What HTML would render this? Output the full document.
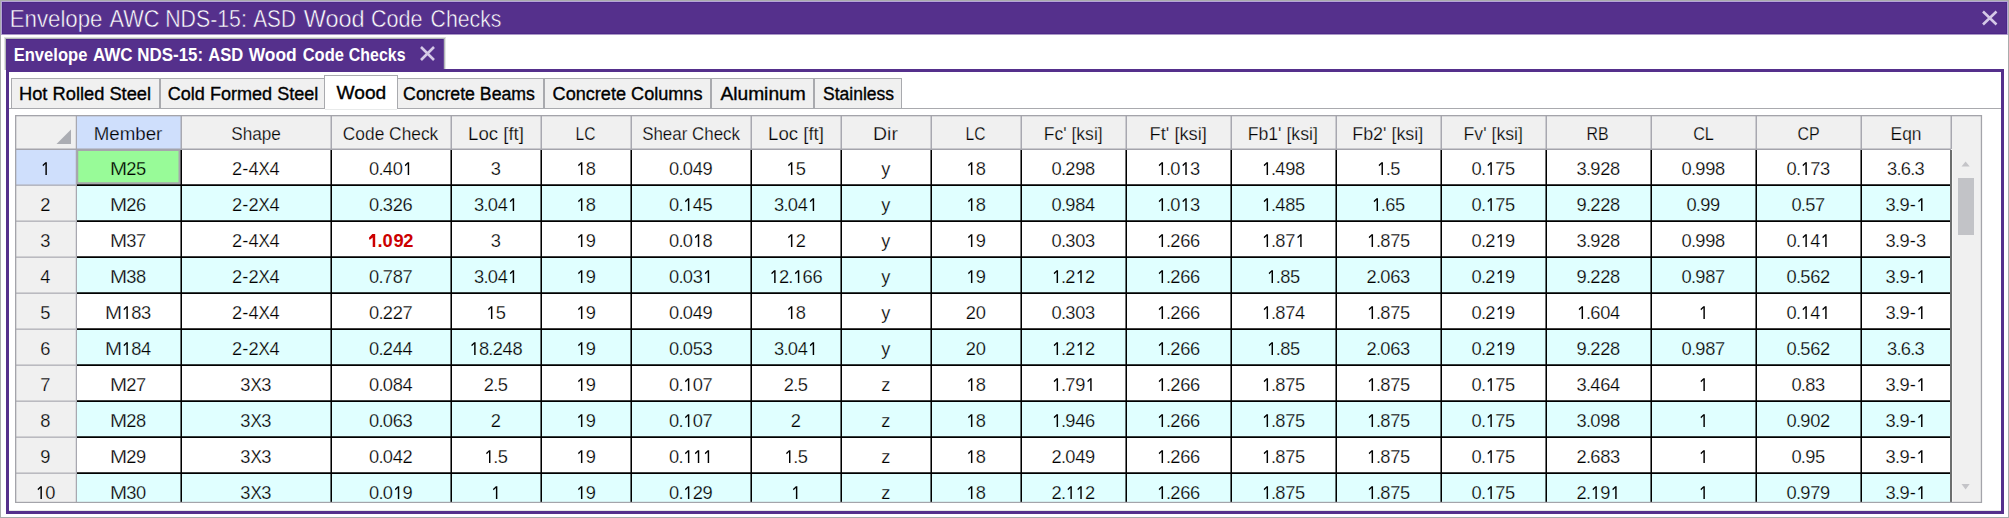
<!DOCTYPE html><html><head><meta charset="utf-8"><style>
html,body{margin:0;padding:0;background:#fff;}
body{width:2009px;height:518px;position:relative;overflow:hidden;font-family:"Liberation Sans", sans-serif;}
.t{position:absolute;white-space:pre;}
.r{position:absolute;}
.g{position:absolute;white-space:pre;font-size:18.3px;line-height:18.3px;}
svg{position:absolute;left:0;top:0;}
</style></head><body>
<div class="r" style="left:0px;top:0px;width:2009px;height:518px;background:#a9acac;"></div>
<div class="r" style="left:1px;top:1px;width:2007px;height:516px;background:#fff;"></div>
<div class="r" style="left:1px;top:1px;width:2007px;height:34px;background:#b6a4d8;"></div>
<div class="r" style="left:2px;top:2px;width:2005px;height:33px;background:#4c2888;"></div>
<div class="r" style="left:2px;top:34px;width:2005px;height:1px;background:#ab98c6;"></div>
<div class="r" style="left:3px;top:3px;width:2003px;height:31px;background:#55308c;"></div>
<div class="r" style="left:3px;top:33px;width:2003px;height:1px;background:#4c2888;"></div>
<div class="t" style="left:6.12px;top:6.88px;font-size:24px;line-height:24px;color:#fff;transform:scaleX(0.9273);transform-origin:50.50px 50%;-webkit-text-stroke:0.5px #55308c;">Envelope</div>
<div class="t" style="left:106.50px;top:6.88px;font-size:24px;line-height:24px;color:#fff;transform:scaleX(0.9039);transform-origin:27.15px 50%;-webkit-text-stroke:0.5px #55308c;">AWC</div>
<div class="t" style="left:160.35px;top:6.88px;font-size:24px;line-height:24px;color:#fff;transform:scaleX(0.8874);transform-origin:45.95px 50%;-webkit-text-stroke:0.5px #55308c;">NDS-15:</div>
<div class="t" style="left:250.10px;top:6.88px;font-size:24px;line-height:24px;color:#fff;transform:scaleX(0.8628);transform-origin:24.15px 50%;-webkit-text-stroke:0.5px #55308c;">ASD</div>
<div class="t" style="left:302.60px;top:6.88px;font-size:24px;line-height:24px;color:#fff;transform:scaleX(0.9769);transform-origin:30.40px 50%;-webkit-text-stroke:0.5px #55308c;">Wood</div>
<div class="t" style="left:367.70px;top:6.88px;font-size:24px;line-height:24px;color:#fff;transform:scaleX(0.8984);transform-origin:28.75px 50%;-webkit-text-stroke:0.5px #55308c;">Code</div>
<div class="t" style="left:425.95px;top:6.88px;font-size:24px;line-height:24px;color:#fff;transform:scaleX(0.8858);transform-origin:40.15px 50%;-webkit-text-stroke:0.5px #55308c;">Checks</div>
<svg width="2009" height="518" style="pointer-events:none">
<path d="M1983 11.5L1996.5 24.5M1996.5 11.5L1983 24.5" stroke="#d5c9e7" stroke-width="2.6" fill="none"/>
</svg>
<div class="r" style="left:6px;top:69px;width:1998px;height:3px;background:#55308c;"></div>
<div class="r" style="left:6px;top:69px;width:3px;height:445px;background:#55308c;"></div>
<div class="r" style="left:2001px;top:69px;width:3px;height:445px;background:#55308c;"></div>
<div class="r" style="left:9px;top:510px;width:1992px;height:1px;background:#e4e8e4;"></div>
<div class="r" style="left:6px;top:511px;width:1998px;height:3px;background:#55308c;"></div>
<div class="r" style="left:4px;top:37px;width:442px;height:1px;background:#e0e2e2;"></div>
<div class="r" style="left:4px;top:37px;width:1px;height:33px;background:#e0e2e2;"></div>
<div class="r" style="left:5px;top:38px;width:440px;height:1px;background:#b4b8b8;"></div>
<div class="r" style="left:5px;top:38px;width:1px;height:32px;background:#b4b8b8;"></div>
<div class="r" style="left:445px;top:38px;width:1px;height:31px;background:#e4e6e6;"></div>
<div class="r" style="left:444px;top:38px;width:1px;height:31px;background:#b4b8b8;"></div>
<div class="r" style="left:6px;top:39px;width:438px;height:31px;background:#55308c;"></div>
<div class="r" style="left:6px;top:39px;width:438px;height:1px;background:#4c2888;"></div>
<div class="r" style="left:443px;top:39px;width:1px;height:30px;background:#6a4c98;"></div>
<div class="t" style="left:8.75px;top:46.20px;font-size:18.67px;line-height:18.67px;font-weight:bold;color:#fff;transform:scaleX(0.8881);transform-origin:41.85px 50%;">Envelope</div>
<div class="t" style="left:90.75px;top:46.20px;font-size:18.67px;line-height:18.67px;font-weight:bold;color:#fff;transform:scaleX(0.9131);transform-origin:21.80px 50%;">AWC</div>
<div class="t" style="left:134.45px;top:46.20px;font-size:18.67px;line-height:18.67px;font-weight:bold;color:#fff;transform:scaleX(0.9067);transform-origin:36.05px 50%;">NDS-15:</div>
<div class="t" style="left:205.75px;top:46.20px;font-size:18.67px;line-height:18.67px;font-weight:bold;color:#fff;transform:scaleX(0.8874);transform-origin:19.60px 50%;">ASD</div>
<div class="t" style="left:246.90px;top:46.20px;font-size:18.67px;line-height:18.67px;font-weight:bold;color:#fff;transform:scaleX(0.9325);transform-origin:25.20px 50%;">Wood</div>
<div class="t" style="left:299.60px;top:46.20px;font-size:18.67px;line-height:18.67px;font-weight:bold;color:#fff;transform:scaleX(0.8855);transform-origin:23.50px 50%;">Code</div>
<div class="t" style="left:344.45px;top:46.20px;font-size:18.67px;line-height:18.67px;font-weight:bold;color:#fff;transform:scaleX(0.8536);transform-origin:33.25px 50%;">Checks</div>
<svg width="2009" height="518" style="pointer-events:none">
<path d="M421 47L434 60M434 47L421 60" stroke="#d5c9e7" stroke-width="2.6" fill="none"/>
</svg>
<div class="r" style="left:9px;top:108px;width:1992px;height:1px;background:#a9aaae;"></div>
<div class="r" style="box-sizing:border-box;left:11px;top:78px;width:149px;height:31px;background:#f0f0f0;border:1px solid #a9aaae;"></div>
<div class="r" style="box-sizing:border-box;left:160px;top:78px;width:165px;height:31px;background:#f0f0f0;border:1px solid #a9aaae;"></div>
<div class="r" style="box-sizing:border-box;left:397px;top:78px;width:147px;height:31px;background:#f0f0f0;border:1px solid #a9aaae;"></div>
<div class="r" style="box-sizing:border-box;left:544px;top:78px;width:167px;height:31px;background:#f0f0f0;border:1px solid #a9aaae;"></div>
<div class="r" style="box-sizing:border-box;left:711px;top:78px;width:103px;height:31px;background:#f0f0f0;border:1px solid #a9aaae;"></div>
<div class="r" style="box-sizing:border-box;left:814px;top:78px;width:88px;height:31px;background:#f0f0f0;border:1px solid #a9aaae;"></div>
<div class="r" style="box-sizing:border-box;left:324px;top:75px;width:74px;height:34px;background:#fff;border:1px solid #a9aaae;border-bottom:none"></div>
<div class="r" style="left:325px;top:109px;width:72px;height:1px;background:#e8eaea;"></div>
<div class="t" style="left:19.70px;top:84.86px;font-size:18px;line-height:18px;color:#000;transform:scaleX(1.0157);transform-origin:65.20px 50%;-webkit-text-stroke:0.35px #000;">Hot Rolled Steel</div>
<div class="t" style="left:168.15px;top:84.86px;font-size:18px;line-height:18px;color:#000;transform:scaleX(1.0034);transform-origin:74.90px 50%;-webkit-text-stroke:0.35px #000;">Cold Formed Steel</div>
<div class="t" style="left:338.15px;top:84.06px;font-size:18px;line-height:18px;color:#000;transform:scaleX(1.0637);transform-origin:22.85px 50%;-webkit-text-stroke:0.35px #000;">Wood</div>
<div class="t" style="left:402.10px;top:84.86px;font-size:18px;line-height:18px;color:#000;transform:scaleX(0.9834);transform-origin:67.20px 50%;-webkit-text-stroke:0.35px #000;">Concrete Beams</div>
<div class="t" style="left:552.80px;top:84.86px;font-size:18px;line-height:18px;color:#000;transform:scaleX(1.0054);transform-origin:74.70px 50%;-webkit-text-stroke:0.35px #000;">Concrete Columns</div>
<div class="t" style="left:723.20px;top:84.86px;font-size:18px;line-height:18px;color:#000;transform:scaleX(1.0660);transform-origin:39.40px 50%;-webkit-text-stroke:0.35px #000;">Aluminum</div>
<div class="t" style="left:821.60px;top:84.86px;font-size:18px;line-height:18px;color:#000;transform:scaleX(0.9721);transform-origin:36.60px 50%;-webkit-text-stroke:0.35px #000;">Stainless</div>
<div class="r" style="left:15px;top:115px;width:1967px;height:388px;background:#f0f0f0;"></div>
<svg width="2009" height="518" style="pointer-events:none">
<rect x="77.00" y="116.00" width="104.00" height="33.00" fill="#cfdffc"/>
<rect x="77.00" y="149.50" width="1874.00" height="37.00" fill="#ffffff"/>
<rect x="16.00" y="149.50" width="60.00" height="36.00" fill="#cfdffc"/>
<rect x="77.00" y="185.50" width="1874.00" height="37.00" fill="#e0ffff"/>
<rect x="77.00" y="221.50" width="1874.00" height="37.00" fill="#ffffff"/>
<rect x="77.00" y="257.50" width="1874.00" height="37.00" fill="#e0ffff"/>
<rect x="77.00" y="293.50" width="1874.00" height="37.00" fill="#ffffff"/>
<rect x="77.00" y="329.50" width="1874.00" height="37.00" fill="#e0ffff"/>
<rect x="77.00" y="365.50" width="1874.00" height="37.00" fill="#ffffff"/>
<rect x="77.00" y="401.50" width="1874.00" height="37.00" fill="#e0ffff"/>
<rect x="77.00" y="437.50" width="1874.00" height="37.00" fill="#ffffff"/>
<rect x="77.00" y="473.50" width="1874.00" height="28.50" fill="#e0ffff"/>
<rect x="77.00" y="150.00" width="103.50" height="34.25" fill="#a6a6ac"/>
<rect x="78.25" y="151.00" width="100.25" height="31.25" fill="#98fb98"/>
<rect x="180.50" y="116.00" width="1.50" height="33.00" fill="#a8a8b0"/>
<rect x="330.50" y="116.00" width="1.50" height="33.00" fill="#a8a8b0"/>
<rect x="450.50" y="116.00" width="1.50" height="33.00" fill="#a8a8b0"/>
<rect x="540.50" y="116.00" width="1.50" height="33.00" fill="#a8a8b0"/>
<rect x="630.50" y="116.00" width="1.50" height="33.00" fill="#a8a8b0"/>
<rect x="750.50" y="116.00" width="1.50" height="33.00" fill="#a8a8b0"/>
<rect x="840.50" y="116.00" width="1.50" height="33.00" fill="#a8a8b0"/>
<rect x="930.50" y="116.00" width="1.50" height="33.00" fill="#a8a8b0"/>
<rect x="1020.50" y="116.00" width="1.50" height="33.00" fill="#a8a8b0"/>
<rect x="1125.50" y="116.00" width="1.50" height="33.00" fill="#a8a8b0"/>
<rect x="1230.50" y="116.00" width="1.50" height="33.00" fill="#a8a8b0"/>
<rect x="1335.50" y="116.00" width="1.50" height="33.00" fill="#a8a8b0"/>
<rect x="1440.50" y="116.00" width="1.50" height="33.00" fill="#a8a8b0"/>
<rect x="1545.50" y="116.00" width="1.50" height="33.00" fill="#a8a8b0"/>
<rect x="1650.50" y="116.00" width="1.50" height="33.00" fill="#a8a8b0"/>
<rect x="1755.50" y="116.00" width="1.50" height="33.00" fill="#a8a8b0"/>
<rect x="1860.50" y="116.00" width="1.50" height="33.00" fill="#a8a8b0"/>
<rect x="1950.50" y="116.00" width="1.50" height="33.00" fill="#a8a8b0"/>
<rect x="75.75" y="116.00" width="1.25" height="386.00" fill="#a8a8b0"/>
<rect x="16.00" y="148.50" width="1935.00" height="1.50" fill="#a4a4ac"/>
<rect x="77.00" y="184.25" width="1873.50" height="1.75" fill="#000"/>
<rect x="16.00" y="184.55" width="59.75" height="1.20" fill="#a8a8b0"/>
<rect x="77.00" y="220.25" width="1873.50" height="1.75" fill="#000"/>
<rect x="16.00" y="220.55" width="59.75" height="1.20" fill="#a8a8b0"/>
<rect x="77.00" y="256.25" width="1873.50" height="1.75" fill="#000"/>
<rect x="16.00" y="256.55" width="59.75" height="1.20" fill="#a8a8b0"/>
<rect x="77.00" y="292.25" width="1873.50" height="1.75" fill="#000"/>
<rect x="16.00" y="292.55" width="59.75" height="1.20" fill="#a8a8b0"/>
<rect x="77.00" y="328.25" width="1873.50" height="1.75" fill="#000"/>
<rect x="16.00" y="328.55" width="59.75" height="1.20" fill="#a8a8b0"/>
<rect x="77.00" y="364.25" width="1873.50" height="1.75" fill="#000"/>
<rect x="16.00" y="364.55" width="59.75" height="1.20" fill="#a8a8b0"/>
<rect x="77.00" y="400.25" width="1873.50" height="1.75" fill="#000"/>
<rect x="16.00" y="400.55" width="59.75" height="1.20" fill="#a8a8b0"/>
<rect x="77.00" y="436.25" width="1873.50" height="1.75" fill="#000"/>
<rect x="16.00" y="436.55" width="59.75" height="1.20" fill="#a8a8b0"/>
<rect x="77.00" y="472.25" width="1873.50" height="1.75" fill="#000"/>
<rect x="16.00" y="472.55" width="59.75" height="1.20" fill="#a8a8b0"/>
<rect x="180.45" y="150.00" width="1.55" height="352.00" fill="#000"/>
<rect x="330.45" y="150.00" width="1.55" height="352.00" fill="#000"/>
<rect x="450.45" y="150.00" width="1.55" height="352.00" fill="#000"/>
<rect x="540.45" y="150.00" width="1.55" height="352.00" fill="#000"/>
<rect x="630.45" y="150.00" width="1.55" height="352.00" fill="#000"/>
<rect x="750.45" y="150.00" width="1.55" height="352.00" fill="#000"/>
<rect x="840.45" y="150.00" width="1.55" height="352.00" fill="#000"/>
<rect x="930.45" y="150.00" width="1.55" height="352.00" fill="#000"/>
<rect x="1020.45" y="150.00" width="1.55" height="352.00" fill="#000"/>
<rect x="1125.45" y="150.00" width="1.55" height="352.00" fill="#000"/>
<rect x="1230.45" y="150.00" width="1.55" height="352.00" fill="#000"/>
<rect x="1335.45" y="150.00" width="1.55" height="352.00" fill="#000"/>
<rect x="1440.45" y="150.00" width="1.55" height="352.00" fill="#000"/>
<rect x="1545.45" y="150.00" width="1.55" height="352.00" fill="#000"/>
<rect x="1650.45" y="150.00" width="1.55" height="352.00" fill="#000"/>
<rect x="1755.45" y="150.00" width="1.55" height="352.00" fill="#000"/>
<rect x="1860.45" y="150.00" width="1.55" height="352.00" fill="#000"/>
<rect x="1950.00" y="150.00" width="2.00" height="352.00" fill="#6c6e6e"/>
<rect x="1952.00" y="150.00" width="1.00" height="352.00" fill="#f8f8f8"/>
<rect x="15.00" y="115.00" width="1967.00" height="1.30" fill="#a4a4aa"/>
<rect x="15.00" y="115.00" width="1.30" height="388.00" fill="#a4a4aa"/>
<rect x="1980.80" y="115.00" width="1.30" height="388.00" fill="#a4a4aa"/>
<rect x="15.00" y="501.80" width="1967.00" height="1.20" fill="#a4a4aa"/>
<path d="M71 129.5L71 144L56.5 144Z" fill="#abadb3"/>
<path d="M1961.5 166.5L1965.6 161.5L1969.7 166.5Z" fill="#c4c4c8"/>
<path d="M1961.5 484L1965.6 489.5L1969.7 484Z" fill="#c4c4c8"/>
<rect x="1958" y="178" width="16" height="57" fill="#c2c3c7"/>
</svg>
<div class="t" style="left:94.95px;top:124.96px;font-size:18px;line-height:18px;color:#000;transform:scaleX(1.0389);transform-origin:33.60px 50%;-webkit-text-stroke:0.25px #cfdffc;">Member</div>
<div class="t" style="left:229.65px;top:124.96px;font-size:18px;line-height:18px;color:#000;transform:scaleX(0.9544);transform-origin:26.00px 50%;-webkit-text-stroke:0.25px #f0f0f0;">Shape</div>
<div class="t" style="left:340.70px;top:124.96px;font-size:18px;line-height:18px;color:#000;transform:scaleX(0.9633);transform-origin:50.00px 50%;-webkit-text-stroke:0.25px #f0f0f0;">Code Check</div>
<div class="t" style="left:468.60px;top:124.96px;font-size:18px;line-height:18px;color:#000;transform:scaleX(1.0352);transform-origin:27.10px 50%;-webkit-text-stroke:0.25px #f0f0f0;">Loc [ft]</div>
<div class="t" style="left:574.20px;top:124.96px;font-size:18px;line-height:18px;color:#000;transform:scaleX(0.8654);transform-origin:11.90px 50%;-webkit-text-stroke:0.25px #f0f0f0;">LC</div>
<div class="t" style="left:638.50px;top:124.96px;font-size:18px;line-height:18px;color:#000;transform:scaleX(0.9400);transform-origin:52.45px 50%;-webkit-text-stroke:0.25px #f0f0f0;">Shear Check</div>
<div class="t" style="left:769.10px;top:124.96px;font-size:18px;line-height:18px;color:#000;transform:scaleX(1.0352);transform-origin:27.10px 50%;-webkit-text-stroke:0.25px #f0f0f0;">Loc [ft]</div>
<div class="t" style="left:874.15px;top:124.96px;font-size:18px;line-height:18px;color:#000;transform:scaleX(1.0802);transform-origin:12.10px 50%;-webkit-text-stroke:0.25px #f0f0f0;">Dir</div>
<div class="t" style="left:964.10px;top:124.96px;font-size:18px;line-height:18px;color:#000;transform:scaleX(0.8654);transform-origin:11.90px 50%;-webkit-text-stroke:0.25px #f0f0f0;">LC</div>
<div class="t" style="left:1042.85px;top:124.96px;font-size:18px;line-height:18px;color:#000;transform:scaleX(0.9740);transform-origin:30.30px 50%;-webkit-text-stroke:0.25px #f0f0f0;">Fc' [ksi]</div>
<div class="t" style="left:1149.90px;top:124.96px;font-size:18px;line-height:18px;color:#000;transform:scaleX(1.0149);transform-origin:28.30px 50%;-webkit-text-stroke:0.25px #f0f0f0;">Ft' [ksi]</div>
<div class="t" style="left:1247.40px;top:124.96px;font-size:18px;line-height:18px;color:#000;transform:scaleX(0.9825);transform-origin:35.85px 50%;-webkit-text-stroke:0.25px #f0f0f0;">Fb1' [ksi]</div>
<div class="t" style="left:1352.35px;top:124.96px;font-size:18px;line-height:18px;color:#000;transform:scaleX(0.9927);transform-origin:35.85px 50%;-webkit-text-stroke:0.25px #f0f0f0;">Fb2' [ksi]</div>
<div class="t" style="left:1462.80px;top:124.96px;font-size:18px;line-height:18px;color:#000;transform:scaleX(0.9826);transform-origin:30.30px 50%;-webkit-text-stroke:0.25px #f0f0f0;">Fv' [ksi]</div>
<div class="t" style="left:1585.45px;top:124.96px;font-size:18px;line-height:18px;color:#000;transform:scaleX(0.8805);transform-origin:12.80px 50%;-webkit-text-stroke:0.25px #f0f0f0;">RB</div>
<div class="t" style="left:1691.65px;top:124.96px;font-size:18px;line-height:18px;color:#000;transform:scaleX(0.9023);transform-origin:11.65px 50%;-webkit-text-stroke:0.25px #f0f0f0;">CL</div>
<div class="t" style="left:1795.60px;top:124.96px;font-size:18px;line-height:18px;color:#000;transform:scaleX(0.8879);transform-origin:12.50px 50%;-webkit-text-stroke:0.25px #f0f0f0;">CP</div>
<div class="t" style="left:1889.60px;top:124.96px;font-size:18px;line-height:18px;color:#000;transform:scaleX(0.9660);transform-origin:16.20px 50%;-webkit-text-stroke:0.25px #f0f0f0;">Eqn</div>
<div class="r" style="left:16px;top:116px;width:1935px;height:386px;overflow:hidden">
<div class="g" style="left:94.83px;top:43.51px;transform:scaleX(1.12);-webkit-text-stroke:0.25px #98fb98">M</div>
<div class="g" style="left:110.21px;top:43.51px;-webkit-text-stroke:0.25px #98fb98">2</div>
<div class="g" style="left:120.11px;top:43.51px;-webkit-text-stroke:0.25px #98fb98">5</div>
<div class="g" style="left:215.96px;top:43.51px;-webkit-text-stroke:0.25px #ffffff">2</div>
<div class="g" style="left:226.25px;top:43.51px;-webkit-text-stroke:0.25px #ffffff">-</div>
<div class="g" style="left:232.46px;top:43.51px;-webkit-text-stroke:0.25px #ffffff">4</div>
<div class="g" style="left:242.00px;top:43.51px;transform:scaleX(0.93);-webkit-text-stroke:0.25px #ffffff">X</div>
<div class="g" style="left:253.56px;top:43.51px;-webkit-text-stroke:0.25px #ffffff">4</div>
<div class="g" style="left:352.96px;top:43.51px;-webkit-text-stroke:0.25px #ffffff">0</div>
<div class="g" style="left:362.41px;top:43.51px;-webkit-text-stroke:0.25px #ffffff">.</div>
<div class="g" style="left:366.76px;top:43.51px;-webkit-text-stroke:0.25px #ffffff">4</div>
<div class="g" style="left:376.66px;top:43.51px;-webkit-text-stroke:0.25px #ffffff">0</div>
<div class="g" style="left:474.76px;top:43.51px;-webkit-text-stroke:0.25px #ffffff">3</div>
<div class="g" style="left:569.71px;top:43.51px;-webkit-text-stroke:0.25px #ffffff">8</div>
<div class="g" style="left:652.96px;top:43.51px;-webkit-text-stroke:0.25px #ffffff">0</div>
<div class="g" style="left:662.41px;top:43.51px;-webkit-text-stroke:0.25px #ffffff">.</div>
<div class="g" style="left:666.76px;top:43.51px;-webkit-text-stroke:0.25px #ffffff">0</div>
<div class="g" style="left:676.66px;top:43.51px;-webkit-text-stroke:0.25px #ffffff">4</div>
<div class="g" style="left:686.56px;top:43.51px;-webkit-text-stroke:0.25px #ffffff">9</div>
<div class="g" style="left:779.71px;top:43.51px;-webkit-text-stroke:0.25px #ffffff">5</div>
<div class="g" style="left:865.27px;top:43.51px;-webkit-text-stroke:0.25px #ffffff">y</div>
<div class="g" style="left:959.71px;top:43.51px;-webkit-text-stroke:0.25px #ffffff">8</div>
<div class="g" style="left:1035.46px;top:43.51px;-webkit-text-stroke:0.25px #ffffff">0</div>
<div class="g" style="left:1044.91px;top:43.51px;-webkit-text-stroke:0.25px #ffffff">.</div>
<div class="g" style="left:1049.26px;top:43.51px;-webkit-text-stroke:0.25px #ffffff">2</div>
<div class="g" style="left:1059.16px;top:43.51px;-webkit-text-stroke:0.25px #ffffff">9</div>
<div class="g" style="left:1069.06px;top:43.51px;-webkit-text-stroke:0.25px #ffffff">8</div>
<div class="g" style="left:1149.91px;top:43.51px;-webkit-text-stroke:0.25px #ffffff">.</div>
<div class="g" style="left:1154.26px;top:43.51px;-webkit-text-stroke:0.25px #ffffff">0</div>
<div class="g" style="left:1174.06px;top:43.51px;-webkit-text-stroke:0.25px #ffffff">3</div>
<div class="g" style="left:1254.91px;top:43.51px;-webkit-text-stroke:0.25px #ffffff">.</div>
<div class="g" style="left:1259.26px;top:43.51px;-webkit-text-stroke:0.25px #ffffff">4</div>
<div class="g" style="left:1269.16px;top:43.51px;-webkit-text-stroke:0.25px #ffffff">9</div>
<div class="g" style="left:1279.06px;top:43.51px;-webkit-text-stroke:0.25px #ffffff">8</div>
<div class="g" style="left:1369.81px;top:43.51px;-webkit-text-stroke:0.25px #ffffff">.</div>
<div class="g" style="left:1374.16px;top:43.51px;-webkit-text-stroke:0.25px #ffffff">5</div>
<div class="g" style="left:1455.46px;top:43.51px;-webkit-text-stroke:0.25px #ffffff">0</div>
<div class="g" style="left:1464.91px;top:43.51px;-webkit-text-stroke:0.25px #ffffff">.</div>
<div class="g" style="left:1479.16px;top:43.51px;-webkit-text-stroke:0.25px #ffffff">7</div>
<div class="g" style="left:1489.06px;top:43.51px;-webkit-text-stroke:0.25px #ffffff">5</div>
<div class="g" style="left:1560.46px;top:43.51px;-webkit-text-stroke:0.25px #ffffff">3</div>
<div class="g" style="left:1569.91px;top:43.51px;-webkit-text-stroke:0.25px #ffffff">.</div>
<div class="g" style="left:1574.26px;top:43.51px;-webkit-text-stroke:0.25px #ffffff">9</div>
<div class="g" style="left:1584.16px;top:43.51px;-webkit-text-stroke:0.25px #ffffff">2</div>
<div class="g" style="left:1594.06px;top:43.51px;-webkit-text-stroke:0.25px #ffffff">8</div>
<div class="g" style="left:1665.46px;top:43.51px;-webkit-text-stroke:0.25px #ffffff">0</div>
<div class="g" style="left:1674.91px;top:43.51px;-webkit-text-stroke:0.25px #ffffff">.</div>
<div class="g" style="left:1679.26px;top:43.51px;-webkit-text-stroke:0.25px #ffffff">9</div>
<div class="g" style="left:1689.16px;top:43.51px;-webkit-text-stroke:0.25px #ffffff">9</div>
<div class="g" style="left:1699.06px;top:43.51px;-webkit-text-stroke:0.25px #ffffff">8</div>
<div class="g" style="left:1770.46px;top:43.51px;-webkit-text-stroke:0.25px #ffffff">0</div>
<div class="g" style="left:1779.91px;top:43.51px;-webkit-text-stroke:0.25px #ffffff">.</div>
<div class="g" style="left:1794.16px;top:43.51px;-webkit-text-stroke:0.25px #ffffff">7</div>
<div class="g" style="left:1804.06px;top:43.51px;-webkit-text-stroke:0.25px #ffffff">3</div>
<div class="g" style="left:1870.96px;top:43.51px;-webkit-text-stroke:0.25px #ffffff">3</div>
<div class="g" style="left:1880.41px;top:43.51px;-webkit-text-stroke:0.25px #ffffff">.</div>
<div class="g" style="left:1884.76px;top:43.51px;-webkit-text-stroke:0.25px #ffffff">6</div>
<div class="g" style="left:1894.21px;top:43.51px;-webkit-text-stroke:0.25px #ffffff">.</div>
<div class="g" style="left:1898.56px;top:43.51px;-webkit-text-stroke:0.25px #ffffff">3</div>
<div class="g" style="left:24.26px;top:79.51px;-webkit-text-stroke:0.25px #f0f0f0">2</div>
<div class="g" style="left:94.83px;top:79.51px;transform:scaleX(1.12);-webkit-text-stroke:0.25px #e0ffff">M</div>
<div class="g" style="left:110.21px;top:79.51px;-webkit-text-stroke:0.25px #e0ffff">2</div>
<div class="g" style="left:120.11px;top:79.51px;-webkit-text-stroke:0.25px #e0ffff">6</div>
<div class="g" style="left:215.96px;top:79.51px;-webkit-text-stroke:0.25px #e0ffff">2</div>
<div class="g" style="left:226.25px;top:79.51px;-webkit-text-stroke:0.25px #e0ffff">-</div>
<div class="g" style="left:232.46px;top:79.51px;-webkit-text-stroke:0.25px #e0ffff">2</div>
<div class="g" style="left:242.00px;top:79.51px;transform:scaleX(0.93);-webkit-text-stroke:0.25px #e0ffff">X</div>
<div class="g" style="left:253.56px;top:79.51px;-webkit-text-stroke:0.25px #e0ffff">4</div>
<div class="g" style="left:352.96px;top:79.51px;-webkit-text-stroke:0.25px #e0ffff">0</div>
<div class="g" style="left:362.41px;top:79.51px;-webkit-text-stroke:0.25px #e0ffff">.</div>
<div class="g" style="left:366.76px;top:79.51px;-webkit-text-stroke:0.25px #e0ffff">3</div>
<div class="g" style="left:376.66px;top:79.51px;-webkit-text-stroke:0.25px #e0ffff">2</div>
<div class="g" style="left:386.56px;top:79.51px;-webkit-text-stroke:0.25px #e0ffff">6</div>
<div class="g" style="left:457.96px;top:79.51px;-webkit-text-stroke:0.25px #e0ffff">3</div>
<div class="g" style="left:467.41px;top:79.51px;-webkit-text-stroke:0.25px #e0ffff">.</div>
<div class="g" style="left:471.76px;top:79.51px;-webkit-text-stroke:0.25px #e0ffff">0</div>
<div class="g" style="left:481.66px;top:79.51px;-webkit-text-stroke:0.25px #e0ffff">4</div>
<div class="g" style="left:569.71px;top:79.51px;-webkit-text-stroke:0.25px #e0ffff">8</div>
<div class="g" style="left:652.96px;top:79.51px;-webkit-text-stroke:0.25px #e0ffff">0</div>
<div class="g" style="left:662.41px;top:79.51px;-webkit-text-stroke:0.25px #e0ffff">.</div>
<div class="g" style="left:676.66px;top:79.51px;-webkit-text-stroke:0.25px #e0ffff">4</div>
<div class="g" style="left:686.56px;top:79.51px;-webkit-text-stroke:0.25px #e0ffff">5</div>
<div class="g" style="left:757.96px;top:79.51px;-webkit-text-stroke:0.25px #e0ffff">3</div>
<div class="g" style="left:767.41px;top:79.51px;-webkit-text-stroke:0.25px #e0ffff">.</div>
<div class="g" style="left:771.76px;top:79.51px;-webkit-text-stroke:0.25px #e0ffff">0</div>
<div class="g" style="left:781.66px;top:79.51px;-webkit-text-stroke:0.25px #e0ffff">4</div>
<div class="g" style="left:865.27px;top:79.51px;-webkit-text-stroke:0.25px #e0ffff">y</div>
<div class="g" style="left:959.71px;top:79.51px;-webkit-text-stroke:0.25px #e0ffff">8</div>
<div class="g" style="left:1035.46px;top:79.51px;-webkit-text-stroke:0.25px #e0ffff">0</div>
<div class="g" style="left:1044.91px;top:79.51px;-webkit-text-stroke:0.25px #e0ffff">.</div>
<div class="g" style="left:1049.26px;top:79.51px;-webkit-text-stroke:0.25px #e0ffff">9</div>
<div class="g" style="left:1059.16px;top:79.51px;-webkit-text-stroke:0.25px #e0ffff">8</div>
<div class="g" style="left:1069.06px;top:79.51px;-webkit-text-stroke:0.25px #e0ffff">4</div>
<div class="g" style="left:1149.91px;top:79.51px;-webkit-text-stroke:0.25px #e0ffff">.</div>
<div class="g" style="left:1154.26px;top:79.51px;-webkit-text-stroke:0.25px #e0ffff">0</div>
<div class="g" style="left:1174.06px;top:79.51px;-webkit-text-stroke:0.25px #e0ffff">3</div>
<div class="g" style="left:1254.91px;top:79.51px;-webkit-text-stroke:0.25px #e0ffff">.</div>
<div class="g" style="left:1259.26px;top:79.51px;-webkit-text-stroke:0.25px #e0ffff">4</div>
<div class="g" style="left:1269.16px;top:79.51px;-webkit-text-stroke:0.25px #e0ffff">8</div>
<div class="g" style="left:1279.06px;top:79.51px;-webkit-text-stroke:0.25px #e0ffff">5</div>
<div class="g" style="left:1364.86px;top:79.51px;-webkit-text-stroke:0.25px #e0ffff">.</div>
<div class="g" style="left:1369.21px;top:79.51px;-webkit-text-stroke:0.25px #e0ffff">6</div>
<div class="g" style="left:1379.11px;top:79.51px;-webkit-text-stroke:0.25px #e0ffff">5</div>
<div class="g" style="left:1455.46px;top:79.51px;-webkit-text-stroke:0.25px #e0ffff">0</div>
<div class="g" style="left:1464.91px;top:79.51px;-webkit-text-stroke:0.25px #e0ffff">.</div>
<div class="g" style="left:1479.16px;top:79.51px;-webkit-text-stroke:0.25px #e0ffff">7</div>
<div class="g" style="left:1489.06px;top:79.51px;-webkit-text-stroke:0.25px #e0ffff">5</div>
<div class="g" style="left:1560.46px;top:79.51px;-webkit-text-stroke:0.25px #e0ffff">9</div>
<div class="g" style="left:1569.91px;top:79.51px;-webkit-text-stroke:0.25px #e0ffff">.</div>
<div class="g" style="left:1574.26px;top:79.51px;-webkit-text-stroke:0.25px #e0ffff">2</div>
<div class="g" style="left:1584.16px;top:79.51px;-webkit-text-stroke:0.25px #e0ffff">2</div>
<div class="g" style="left:1594.06px;top:79.51px;-webkit-text-stroke:0.25px #e0ffff">8</div>
<div class="g" style="left:1670.41px;top:79.51px;-webkit-text-stroke:0.25px #e0ffff">0</div>
<div class="g" style="left:1679.86px;top:79.51px;-webkit-text-stroke:0.25px #e0ffff">.</div>
<div class="g" style="left:1684.21px;top:79.51px;-webkit-text-stroke:0.25px #e0ffff">9</div>
<div class="g" style="left:1694.11px;top:79.51px;-webkit-text-stroke:0.25px #e0ffff">9</div>
<div class="g" style="left:1775.41px;top:79.51px;-webkit-text-stroke:0.25px #e0ffff">0</div>
<div class="g" style="left:1784.86px;top:79.51px;-webkit-text-stroke:0.25px #e0ffff">.</div>
<div class="g" style="left:1789.21px;top:79.51px;-webkit-text-stroke:0.25px #e0ffff">5</div>
<div class="g" style="left:1799.11px;top:79.51px;-webkit-text-stroke:0.25px #e0ffff">7</div>
<div class="g" style="left:1869.61px;top:79.51px;-webkit-text-stroke:0.25px #e0ffff">3</div>
<div class="g" style="left:1879.06px;top:79.51px;-webkit-text-stroke:0.25px #e0ffff">.</div>
<div class="g" style="left:1883.41px;top:79.51px;-webkit-text-stroke:0.25px #e0ffff">9</div>
<div class="g" style="left:1893.70px;top:79.51px;-webkit-text-stroke:0.25px #e0ffff">-</div>
<div class="g" style="left:24.26px;top:115.51px;-webkit-text-stroke:0.25px #f0f0f0">3</div>
<div class="g" style="left:94.83px;top:115.51px;transform:scaleX(1.12);-webkit-text-stroke:0.25px #ffffff">M</div>
<div class="g" style="left:110.21px;top:115.51px;-webkit-text-stroke:0.25px #ffffff">3</div>
<div class="g" style="left:120.11px;top:115.51px;-webkit-text-stroke:0.25px #ffffff">7</div>
<div class="g" style="left:215.96px;top:115.51px;-webkit-text-stroke:0.25px #ffffff">2</div>
<div class="g" style="left:226.25px;top:115.51px;-webkit-text-stroke:0.25px #ffffff">-</div>
<div class="g" style="left:232.46px;top:115.51px;-webkit-text-stroke:0.25px #ffffff">4</div>
<div class="g" style="left:242.00px;top:115.51px;transform:scaleX(0.93);-webkit-text-stroke:0.25px #ffffff">X</div>
<div class="g" style="left:253.56px;top:115.51px;-webkit-text-stroke:0.25px #ffffff">4</div>
<div class="g" style="left:474.76px;top:115.51px;-webkit-text-stroke:0.25px #ffffff">3</div>
<div class="g" style="left:569.71px;top:115.51px;-webkit-text-stroke:0.25px #ffffff">9</div>
<div class="g" style="left:652.96px;top:115.51px;-webkit-text-stroke:0.25px #ffffff">0</div>
<div class="g" style="left:662.41px;top:115.51px;-webkit-text-stroke:0.25px #ffffff">.</div>
<div class="g" style="left:666.76px;top:115.51px;-webkit-text-stroke:0.25px #ffffff">0</div>
<div class="g" style="left:686.56px;top:115.51px;-webkit-text-stroke:0.25px #ffffff">8</div>
<div class="g" style="left:779.71px;top:115.51px;-webkit-text-stroke:0.25px #ffffff">2</div>
<div class="g" style="left:865.27px;top:115.51px;-webkit-text-stroke:0.25px #ffffff">y</div>
<div class="g" style="left:959.71px;top:115.51px;-webkit-text-stroke:0.25px #ffffff">9</div>
<div class="g" style="left:1035.46px;top:115.51px;-webkit-text-stroke:0.25px #ffffff">0</div>
<div class="g" style="left:1044.91px;top:115.51px;-webkit-text-stroke:0.25px #ffffff">.</div>
<div class="g" style="left:1049.26px;top:115.51px;-webkit-text-stroke:0.25px #ffffff">3</div>
<div class="g" style="left:1059.16px;top:115.51px;-webkit-text-stroke:0.25px #ffffff">0</div>
<div class="g" style="left:1069.06px;top:115.51px;-webkit-text-stroke:0.25px #ffffff">3</div>
<div class="g" style="left:1149.91px;top:115.51px;-webkit-text-stroke:0.25px #ffffff">.</div>
<div class="g" style="left:1154.26px;top:115.51px;-webkit-text-stroke:0.25px #ffffff">2</div>
<div class="g" style="left:1164.16px;top:115.51px;-webkit-text-stroke:0.25px #ffffff">6</div>
<div class="g" style="left:1174.06px;top:115.51px;-webkit-text-stroke:0.25px #ffffff">6</div>
<div class="g" style="left:1254.91px;top:115.51px;-webkit-text-stroke:0.25px #ffffff">.</div>
<div class="g" style="left:1259.26px;top:115.51px;-webkit-text-stroke:0.25px #ffffff">8</div>
<div class="g" style="left:1269.16px;top:115.51px;-webkit-text-stroke:0.25px #ffffff">7</div>
<div class="g" style="left:1359.91px;top:115.51px;-webkit-text-stroke:0.25px #ffffff">.</div>
<div class="g" style="left:1364.26px;top:115.51px;-webkit-text-stroke:0.25px #ffffff">8</div>
<div class="g" style="left:1374.16px;top:115.51px;-webkit-text-stroke:0.25px #ffffff">7</div>
<div class="g" style="left:1384.06px;top:115.51px;-webkit-text-stroke:0.25px #ffffff">5</div>
<div class="g" style="left:1455.46px;top:115.51px;-webkit-text-stroke:0.25px #ffffff">0</div>
<div class="g" style="left:1464.91px;top:115.51px;-webkit-text-stroke:0.25px #ffffff">.</div>
<div class="g" style="left:1469.26px;top:115.51px;-webkit-text-stroke:0.25px #ffffff">2</div>
<div class="g" style="left:1489.06px;top:115.51px;-webkit-text-stroke:0.25px #ffffff">9</div>
<div class="g" style="left:1560.46px;top:115.51px;-webkit-text-stroke:0.25px #ffffff">3</div>
<div class="g" style="left:1569.91px;top:115.51px;-webkit-text-stroke:0.25px #ffffff">.</div>
<div class="g" style="left:1574.26px;top:115.51px;-webkit-text-stroke:0.25px #ffffff">9</div>
<div class="g" style="left:1584.16px;top:115.51px;-webkit-text-stroke:0.25px #ffffff">2</div>
<div class="g" style="left:1594.06px;top:115.51px;-webkit-text-stroke:0.25px #ffffff">8</div>
<div class="g" style="left:1665.46px;top:115.51px;-webkit-text-stroke:0.25px #ffffff">0</div>
<div class="g" style="left:1674.91px;top:115.51px;-webkit-text-stroke:0.25px #ffffff">.</div>
<div class="g" style="left:1679.26px;top:115.51px;-webkit-text-stroke:0.25px #ffffff">9</div>
<div class="g" style="left:1689.16px;top:115.51px;-webkit-text-stroke:0.25px #ffffff">9</div>
<div class="g" style="left:1699.06px;top:115.51px;-webkit-text-stroke:0.25px #ffffff">8</div>
<div class="g" style="left:1770.46px;top:115.51px;-webkit-text-stroke:0.25px #ffffff">0</div>
<div class="g" style="left:1779.91px;top:115.51px;-webkit-text-stroke:0.25px #ffffff">.</div>
<div class="g" style="left:1794.16px;top:115.51px;-webkit-text-stroke:0.25px #ffffff">4</div>
<div class="g" style="left:1869.61px;top:115.51px;-webkit-text-stroke:0.25px #ffffff">3</div>
<div class="g" style="left:1879.06px;top:115.51px;-webkit-text-stroke:0.25px #ffffff">.</div>
<div class="g" style="left:1883.41px;top:115.51px;-webkit-text-stroke:0.25px #ffffff">9</div>
<div class="g" style="left:1893.70px;top:115.51px;-webkit-text-stroke:0.25px #ffffff">-</div>
<div class="g" style="left:1899.91px;top:115.51px;-webkit-text-stroke:0.25px #ffffff">3</div>
<div class="g" style="left:24.26px;top:151.51px;-webkit-text-stroke:0.25px #f0f0f0">4</div>
<div class="g" style="left:94.83px;top:151.51px;transform:scaleX(1.12);-webkit-text-stroke:0.25px #e0ffff">M</div>
<div class="g" style="left:110.21px;top:151.51px;-webkit-text-stroke:0.25px #e0ffff">3</div>
<div class="g" style="left:120.11px;top:151.51px;-webkit-text-stroke:0.25px #e0ffff">8</div>
<div class="g" style="left:215.96px;top:151.51px;-webkit-text-stroke:0.25px #e0ffff">2</div>
<div class="g" style="left:226.25px;top:151.51px;-webkit-text-stroke:0.25px #e0ffff">-</div>
<div class="g" style="left:232.46px;top:151.51px;-webkit-text-stroke:0.25px #e0ffff">2</div>
<div class="g" style="left:242.00px;top:151.51px;transform:scaleX(0.93);-webkit-text-stroke:0.25px #e0ffff">X</div>
<div class="g" style="left:253.56px;top:151.51px;-webkit-text-stroke:0.25px #e0ffff">4</div>
<div class="g" style="left:352.96px;top:151.51px;-webkit-text-stroke:0.25px #e0ffff">0</div>
<div class="g" style="left:362.41px;top:151.51px;-webkit-text-stroke:0.25px #e0ffff">.</div>
<div class="g" style="left:366.76px;top:151.51px;-webkit-text-stroke:0.25px #e0ffff">7</div>
<div class="g" style="left:376.66px;top:151.51px;-webkit-text-stroke:0.25px #e0ffff">8</div>
<div class="g" style="left:386.56px;top:151.51px;-webkit-text-stroke:0.25px #e0ffff">7</div>
<div class="g" style="left:457.96px;top:151.51px;-webkit-text-stroke:0.25px #e0ffff">3</div>
<div class="g" style="left:467.41px;top:151.51px;-webkit-text-stroke:0.25px #e0ffff">.</div>
<div class="g" style="left:471.76px;top:151.51px;-webkit-text-stroke:0.25px #e0ffff">0</div>
<div class="g" style="left:481.66px;top:151.51px;-webkit-text-stroke:0.25px #e0ffff">4</div>
<div class="g" style="left:569.71px;top:151.51px;-webkit-text-stroke:0.25px #e0ffff">9</div>
<div class="g" style="left:652.96px;top:151.51px;-webkit-text-stroke:0.25px #e0ffff">0</div>
<div class="g" style="left:662.41px;top:151.51px;-webkit-text-stroke:0.25px #e0ffff">.</div>
<div class="g" style="left:666.76px;top:151.51px;-webkit-text-stroke:0.25px #e0ffff">0</div>
<div class="g" style="left:676.66px;top:151.51px;-webkit-text-stroke:0.25px #e0ffff">3</div>
<div class="g" style="left:762.91px;top:151.51px;-webkit-text-stroke:0.25px #e0ffff">2</div>
<div class="g" style="left:772.36px;top:151.51px;-webkit-text-stroke:0.25px #e0ffff">.</div>
<div class="g" style="left:786.61px;top:151.51px;-webkit-text-stroke:0.25px #e0ffff">6</div>
<div class="g" style="left:796.51px;top:151.51px;-webkit-text-stroke:0.25px #e0ffff">6</div>
<div class="g" style="left:865.27px;top:151.51px;-webkit-text-stroke:0.25px #e0ffff">y</div>
<div class="g" style="left:959.71px;top:151.51px;-webkit-text-stroke:0.25px #e0ffff">9</div>
<div class="g" style="left:1044.91px;top:151.51px;-webkit-text-stroke:0.25px #e0ffff">.</div>
<div class="g" style="left:1049.26px;top:151.51px;-webkit-text-stroke:0.25px #e0ffff">2</div>
<div class="g" style="left:1069.06px;top:151.51px;-webkit-text-stroke:0.25px #e0ffff">2</div>
<div class="g" style="left:1149.91px;top:151.51px;-webkit-text-stroke:0.25px #e0ffff">.</div>
<div class="g" style="left:1154.26px;top:151.51px;-webkit-text-stroke:0.25px #e0ffff">2</div>
<div class="g" style="left:1164.16px;top:151.51px;-webkit-text-stroke:0.25px #e0ffff">6</div>
<div class="g" style="left:1174.06px;top:151.51px;-webkit-text-stroke:0.25px #e0ffff">6</div>
<div class="g" style="left:1259.86px;top:151.51px;-webkit-text-stroke:0.25px #e0ffff">.</div>
<div class="g" style="left:1264.21px;top:151.51px;-webkit-text-stroke:0.25px #e0ffff">8</div>
<div class="g" style="left:1274.11px;top:151.51px;-webkit-text-stroke:0.25px #e0ffff">5</div>
<div class="g" style="left:1350.46px;top:151.51px;-webkit-text-stroke:0.25px #e0ffff">2</div>
<div class="g" style="left:1359.91px;top:151.51px;-webkit-text-stroke:0.25px #e0ffff">.</div>
<div class="g" style="left:1364.26px;top:151.51px;-webkit-text-stroke:0.25px #e0ffff">0</div>
<div class="g" style="left:1374.16px;top:151.51px;-webkit-text-stroke:0.25px #e0ffff">6</div>
<div class="g" style="left:1384.06px;top:151.51px;-webkit-text-stroke:0.25px #e0ffff">3</div>
<div class="g" style="left:1455.46px;top:151.51px;-webkit-text-stroke:0.25px #e0ffff">0</div>
<div class="g" style="left:1464.91px;top:151.51px;-webkit-text-stroke:0.25px #e0ffff">.</div>
<div class="g" style="left:1469.26px;top:151.51px;-webkit-text-stroke:0.25px #e0ffff">2</div>
<div class="g" style="left:1489.06px;top:151.51px;-webkit-text-stroke:0.25px #e0ffff">9</div>
<div class="g" style="left:1560.46px;top:151.51px;-webkit-text-stroke:0.25px #e0ffff">9</div>
<div class="g" style="left:1569.91px;top:151.51px;-webkit-text-stroke:0.25px #e0ffff">.</div>
<div class="g" style="left:1574.26px;top:151.51px;-webkit-text-stroke:0.25px #e0ffff">2</div>
<div class="g" style="left:1584.16px;top:151.51px;-webkit-text-stroke:0.25px #e0ffff">2</div>
<div class="g" style="left:1594.06px;top:151.51px;-webkit-text-stroke:0.25px #e0ffff">8</div>
<div class="g" style="left:1665.46px;top:151.51px;-webkit-text-stroke:0.25px #e0ffff">0</div>
<div class="g" style="left:1674.91px;top:151.51px;-webkit-text-stroke:0.25px #e0ffff">.</div>
<div class="g" style="left:1679.26px;top:151.51px;-webkit-text-stroke:0.25px #e0ffff">9</div>
<div class="g" style="left:1689.16px;top:151.51px;-webkit-text-stroke:0.25px #e0ffff">8</div>
<div class="g" style="left:1699.06px;top:151.51px;-webkit-text-stroke:0.25px #e0ffff">7</div>
<div class="g" style="left:1770.46px;top:151.51px;-webkit-text-stroke:0.25px #e0ffff">0</div>
<div class="g" style="left:1779.91px;top:151.51px;-webkit-text-stroke:0.25px #e0ffff">.</div>
<div class="g" style="left:1784.26px;top:151.51px;-webkit-text-stroke:0.25px #e0ffff">5</div>
<div class="g" style="left:1794.16px;top:151.51px;-webkit-text-stroke:0.25px #e0ffff">6</div>
<div class="g" style="left:1804.06px;top:151.51px;-webkit-text-stroke:0.25px #e0ffff">2</div>
<div class="g" style="left:1869.61px;top:151.51px;-webkit-text-stroke:0.25px #e0ffff">3</div>
<div class="g" style="left:1879.06px;top:151.51px;-webkit-text-stroke:0.25px #e0ffff">.</div>
<div class="g" style="left:1883.41px;top:151.51px;-webkit-text-stroke:0.25px #e0ffff">9</div>
<div class="g" style="left:1893.70px;top:151.51px;-webkit-text-stroke:0.25px #e0ffff">-</div>
<div class="g" style="left:24.26px;top:187.51px;-webkit-text-stroke:0.25px #f0f0f0">5</div>
<div class="g" style="left:89.88px;top:187.51px;transform:scaleX(1.12);-webkit-text-stroke:0.25px #ffffff">M</div>
<div class="g" style="left:115.16px;top:187.51px;-webkit-text-stroke:0.25px #ffffff">8</div>
<div class="g" style="left:125.06px;top:187.51px;-webkit-text-stroke:0.25px #ffffff">3</div>
<div class="g" style="left:215.96px;top:187.51px;-webkit-text-stroke:0.25px #ffffff">2</div>
<div class="g" style="left:226.25px;top:187.51px;-webkit-text-stroke:0.25px #ffffff">-</div>
<div class="g" style="left:232.46px;top:187.51px;-webkit-text-stroke:0.25px #ffffff">4</div>
<div class="g" style="left:242.00px;top:187.51px;transform:scaleX(0.93);-webkit-text-stroke:0.25px #ffffff">X</div>
<div class="g" style="left:253.56px;top:187.51px;-webkit-text-stroke:0.25px #ffffff">4</div>
<div class="g" style="left:352.96px;top:187.51px;-webkit-text-stroke:0.25px #ffffff">0</div>
<div class="g" style="left:362.41px;top:187.51px;-webkit-text-stroke:0.25px #ffffff">.</div>
<div class="g" style="left:366.76px;top:187.51px;-webkit-text-stroke:0.25px #ffffff">2</div>
<div class="g" style="left:376.66px;top:187.51px;-webkit-text-stroke:0.25px #ffffff">2</div>
<div class="g" style="left:386.56px;top:187.51px;-webkit-text-stroke:0.25px #ffffff">7</div>
<div class="g" style="left:479.71px;top:187.51px;-webkit-text-stroke:0.25px #ffffff">5</div>
<div class="g" style="left:569.71px;top:187.51px;-webkit-text-stroke:0.25px #ffffff">9</div>
<div class="g" style="left:652.96px;top:187.51px;-webkit-text-stroke:0.25px #ffffff">0</div>
<div class="g" style="left:662.41px;top:187.51px;-webkit-text-stroke:0.25px #ffffff">.</div>
<div class="g" style="left:666.76px;top:187.51px;-webkit-text-stroke:0.25px #ffffff">0</div>
<div class="g" style="left:676.66px;top:187.51px;-webkit-text-stroke:0.25px #ffffff">4</div>
<div class="g" style="left:686.56px;top:187.51px;-webkit-text-stroke:0.25px #ffffff">9</div>
<div class="g" style="left:779.71px;top:187.51px;-webkit-text-stroke:0.25px #ffffff">8</div>
<div class="g" style="left:865.27px;top:187.51px;-webkit-text-stroke:0.25px #ffffff">y</div>
<div class="g" style="left:949.81px;top:187.51px;-webkit-text-stroke:0.25px #ffffff">2</div>
<div class="g" style="left:959.71px;top:187.51px;-webkit-text-stroke:0.25px #ffffff">0</div>
<div class="g" style="left:1035.46px;top:187.51px;-webkit-text-stroke:0.25px #ffffff">0</div>
<div class="g" style="left:1044.91px;top:187.51px;-webkit-text-stroke:0.25px #ffffff">.</div>
<div class="g" style="left:1049.26px;top:187.51px;-webkit-text-stroke:0.25px #ffffff">3</div>
<div class="g" style="left:1059.16px;top:187.51px;-webkit-text-stroke:0.25px #ffffff">0</div>
<div class="g" style="left:1069.06px;top:187.51px;-webkit-text-stroke:0.25px #ffffff">3</div>
<div class="g" style="left:1149.91px;top:187.51px;-webkit-text-stroke:0.25px #ffffff">.</div>
<div class="g" style="left:1154.26px;top:187.51px;-webkit-text-stroke:0.25px #ffffff">2</div>
<div class="g" style="left:1164.16px;top:187.51px;-webkit-text-stroke:0.25px #ffffff">6</div>
<div class="g" style="left:1174.06px;top:187.51px;-webkit-text-stroke:0.25px #ffffff">6</div>
<div class="g" style="left:1254.91px;top:187.51px;-webkit-text-stroke:0.25px #ffffff">.</div>
<div class="g" style="left:1259.26px;top:187.51px;-webkit-text-stroke:0.25px #ffffff">8</div>
<div class="g" style="left:1269.16px;top:187.51px;-webkit-text-stroke:0.25px #ffffff">7</div>
<div class="g" style="left:1279.06px;top:187.51px;-webkit-text-stroke:0.25px #ffffff">4</div>
<div class="g" style="left:1359.91px;top:187.51px;-webkit-text-stroke:0.25px #ffffff">.</div>
<div class="g" style="left:1364.26px;top:187.51px;-webkit-text-stroke:0.25px #ffffff">8</div>
<div class="g" style="left:1374.16px;top:187.51px;-webkit-text-stroke:0.25px #ffffff">7</div>
<div class="g" style="left:1384.06px;top:187.51px;-webkit-text-stroke:0.25px #ffffff">5</div>
<div class="g" style="left:1455.46px;top:187.51px;-webkit-text-stroke:0.25px #ffffff">0</div>
<div class="g" style="left:1464.91px;top:187.51px;-webkit-text-stroke:0.25px #ffffff">.</div>
<div class="g" style="left:1469.26px;top:187.51px;-webkit-text-stroke:0.25px #ffffff">2</div>
<div class="g" style="left:1489.06px;top:187.51px;-webkit-text-stroke:0.25px #ffffff">9</div>
<div class="g" style="left:1569.91px;top:187.51px;-webkit-text-stroke:0.25px #ffffff">.</div>
<div class="g" style="left:1574.26px;top:187.51px;-webkit-text-stroke:0.25px #ffffff">6</div>
<div class="g" style="left:1584.16px;top:187.51px;-webkit-text-stroke:0.25px #ffffff">0</div>
<div class="g" style="left:1594.06px;top:187.51px;-webkit-text-stroke:0.25px #ffffff">4</div>
<div class="g" style="left:1770.46px;top:187.51px;-webkit-text-stroke:0.25px #ffffff">0</div>
<div class="g" style="left:1779.91px;top:187.51px;-webkit-text-stroke:0.25px #ffffff">.</div>
<div class="g" style="left:1794.16px;top:187.51px;-webkit-text-stroke:0.25px #ffffff">4</div>
<div class="g" style="left:1869.61px;top:187.51px;-webkit-text-stroke:0.25px #ffffff">3</div>
<div class="g" style="left:1879.06px;top:187.51px;-webkit-text-stroke:0.25px #ffffff">.</div>
<div class="g" style="left:1883.41px;top:187.51px;-webkit-text-stroke:0.25px #ffffff">9</div>
<div class="g" style="left:1893.70px;top:187.51px;-webkit-text-stroke:0.25px #ffffff">-</div>
<div class="g" style="left:24.26px;top:223.51px;-webkit-text-stroke:0.25px #f0f0f0">6</div>
<div class="g" style="left:89.88px;top:223.51px;transform:scaleX(1.12);-webkit-text-stroke:0.25px #e0ffff">M</div>
<div class="g" style="left:115.16px;top:223.51px;-webkit-text-stroke:0.25px #e0ffff">8</div>
<div class="g" style="left:125.06px;top:223.51px;-webkit-text-stroke:0.25px #e0ffff">4</div>
<div class="g" style="left:215.96px;top:223.51px;-webkit-text-stroke:0.25px #e0ffff">2</div>
<div class="g" style="left:226.25px;top:223.51px;-webkit-text-stroke:0.25px #e0ffff">-</div>
<div class="g" style="left:232.46px;top:223.51px;-webkit-text-stroke:0.25px #e0ffff">2</div>
<div class="g" style="left:242.00px;top:223.51px;transform:scaleX(0.93);-webkit-text-stroke:0.25px #e0ffff">X</div>
<div class="g" style="left:253.56px;top:223.51px;-webkit-text-stroke:0.25px #e0ffff">4</div>
<div class="g" style="left:352.96px;top:223.51px;-webkit-text-stroke:0.25px #e0ffff">0</div>
<div class="g" style="left:362.41px;top:223.51px;-webkit-text-stroke:0.25px #e0ffff">.</div>
<div class="g" style="left:366.76px;top:223.51px;-webkit-text-stroke:0.25px #e0ffff">2</div>
<div class="g" style="left:376.66px;top:223.51px;-webkit-text-stroke:0.25px #e0ffff">4</div>
<div class="g" style="left:386.56px;top:223.51px;-webkit-text-stroke:0.25px #e0ffff">4</div>
<div class="g" style="left:462.91px;top:223.51px;-webkit-text-stroke:0.25px #e0ffff">8</div>
<div class="g" style="left:472.36px;top:223.51px;-webkit-text-stroke:0.25px #e0ffff">.</div>
<div class="g" style="left:476.71px;top:223.51px;-webkit-text-stroke:0.25px #e0ffff">2</div>
<div class="g" style="left:486.61px;top:223.51px;-webkit-text-stroke:0.25px #e0ffff">4</div>
<div class="g" style="left:496.51px;top:223.51px;-webkit-text-stroke:0.25px #e0ffff">8</div>
<div class="g" style="left:569.71px;top:223.51px;-webkit-text-stroke:0.25px #e0ffff">9</div>
<div class="g" style="left:652.96px;top:223.51px;-webkit-text-stroke:0.25px #e0ffff">0</div>
<div class="g" style="left:662.41px;top:223.51px;-webkit-text-stroke:0.25px #e0ffff">.</div>
<div class="g" style="left:666.76px;top:223.51px;-webkit-text-stroke:0.25px #e0ffff">0</div>
<div class="g" style="left:676.66px;top:223.51px;-webkit-text-stroke:0.25px #e0ffff">5</div>
<div class="g" style="left:686.56px;top:223.51px;-webkit-text-stroke:0.25px #e0ffff">3</div>
<div class="g" style="left:757.96px;top:223.51px;-webkit-text-stroke:0.25px #e0ffff">3</div>
<div class="g" style="left:767.41px;top:223.51px;-webkit-text-stroke:0.25px #e0ffff">.</div>
<div class="g" style="left:771.76px;top:223.51px;-webkit-text-stroke:0.25px #e0ffff">0</div>
<div class="g" style="left:781.66px;top:223.51px;-webkit-text-stroke:0.25px #e0ffff">4</div>
<div class="g" style="left:865.27px;top:223.51px;-webkit-text-stroke:0.25px #e0ffff">y</div>
<div class="g" style="left:949.81px;top:223.51px;-webkit-text-stroke:0.25px #e0ffff">2</div>
<div class="g" style="left:959.71px;top:223.51px;-webkit-text-stroke:0.25px #e0ffff">0</div>
<div class="g" style="left:1044.91px;top:223.51px;-webkit-text-stroke:0.25px #e0ffff">.</div>
<div class="g" style="left:1049.26px;top:223.51px;-webkit-text-stroke:0.25px #e0ffff">2</div>
<div class="g" style="left:1069.06px;top:223.51px;-webkit-text-stroke:0.25px #e0ffff">2</div>
<div class="g" style="left:1149.91px;top:223.51px;-webkit-text-stroke:0.25px #e0ffff">.</div>
<div class="g" style="left:1154.26px;top:223.51px;-webkit-text-stroke:0.25px #e0ffff">2</div>
<div class="g" style="left:1164.16px;top:223.51px;-webkit-text-stroke:0.25px #e0ffff">6</div>
<div class="g" style="left:1174.06px;top:223.51px;-webkit-text-stroke:0.25px #e0ffff">6</div>
<div class="g" style="left:1259.86px;top:223.51px;-webkit-text-stroke:0.25px #e0ffff">.</div>
<div class="g" style="left:1264.21px;top:223.51px;-webkit-text-stroke:0.25px #e0ffff">8</div>
<div class="g" style="left:1274.11px;top:223.51px;-webkit-text-stroke:0.25px #e0ffff">5</div>
<div class="g" style="left:1350.46px;top:223.51px;-webkit-text-stroke:0.25px #e0ffff">2</div>
<div class="g" style="left:1359.91px;top:223.51px;-webkit-text-stroke:0.25px #e0ffff">.</div>
<div class="g" style="left:1364.26px;top:223.51px;-webkit-text-stroke:0.25px #e0ffff">0</div>
<div class="g" style="left:1374.16px;top:223.51px;-webkit-text-stroke:0.25px #e0ffff">6</div>
<div class="g" style="left:1384.06px;top:223.51px;-webkit-text-stroke:0.25px #e0ffff">3</div>
<div class="g" style="left:1455.46px;top:223.51px;-webkit-text-stroke:0.25px #e0ffff">0</div>
<div class="g" style="left:1464.91px;top:223.51px;-webkit-text-stroke:0.25px #e0ffff">.</div>
<div class="g" style="left:1469.26px;top:223.51px;-webkit-text-stroke:0.25px #e0ffff">2</div>
<div class="g" style="left:1489.06px;top:223.51px;-webkit-text-stroke:0.25px #e0ffff">9</div>
<div class="g" style="left:1560.46px;top:223.51px;-webkit-text-stroke:0.25px #e0ffff">9</div>
<div class="g" style="left:1569.91px;top:223.51px;-webkit-text-stroke:0.25px #e0ffff">.</div>
<div class="g" style="left:1574.26px;top:223.51px;-webkit-text-stroke:0.25px #e0ffff">2</div>
<div class="g" style="left:1584.16px;top:223.51px;-webkit-text-stroke:0.25px #e0ffff">2</div>
<div class="g" style="left:1594.06px;top:223.51px;-webkit-text-stroke:0.25px #e0ffff">8</div>
<div class="g" style="left:1665.46px;top:223.51px;-webkit-text-stroke:0.25px #e0ffff">0</div>
<div class="g" style="left:1674.91px;top:223.51px;-webkit-text-stroke:0.25px #e0ffff">.</div>
<div class="g" style="left:1679.26px;top:223.51px;-webkit-text-stroke:0.25px #e0ffff">9</div>
<div class="g" style="left:1689.16px;top:223.51px;-webkit-text-stroke:0.25px #e0ffff">8</div>
<div class="g" style="left:1699.06px;top:223.51px;-webkit-text-stroke:0.25px #e0ffff">7</div>
<div class="g" style="left:1770.46px;top:223.51px;-webkit-text-stroke:0.25px #e0ffff">0</div>
<div class="g" style="left:1779.91px;top:223.51px;-webkit-text-stroke:0.25px #e0ffff">.</div>
<div class="g" style="left:1784.26px;top:223.51px;-webkit-text-stroke:0.25px #e0ffff">5</div>
<div class="g" style="left:1794.16px;top:223.51px;-webkit-text-stroke:0.25px #e0ffff">6</div>
<div class="g" style="left:1804.06px;top:223.51px;-webkit-text-stroke:0.25px #e0ffff">2</div>
<div class="g" style="left:1870.96px;top:223.51px;-webkit-text-stroke:0.25px #e0ffff">3</div>
<div class="g" style="left:1880.41px;top:223.51px;-webkit-text-stroke:0.25px #e0ffff">.</div>
<div class="g" style="left:1884.76px;top:223.51px;-webkit-text-stroke:0.25px #e0ffff">6</div>
<div class="g" style="left:1894.21px;top:223.51px;-webkit-text-stroke:0.25px #e0ffff">.</div>
<div class="g" style="left:1898.56px;top:223.51px;-webkit-text-stroke:0.25px #e0ffff">3</div>
<div class="g" style="left:24.26px;top:259.51px;-webkit-text-stroke:0.25px #f0f0f0">7</div>
<div class="g" style="left:94.83px;top:259.51px;transform:scaleX(1.12);-webkit-text-stroke:0.25px #ffffff">M</div>
<div class="g" style="left:110.21px;top:259.51px;-webkit-text-stroke:0.25px #ffffff">2</div>
<div class="g" style="left:120.11px;top:259.51px;-webkit-text-stroke:0.25px #ffffff">7</div>
<div class="g" style="left:224.21px;top:259.51px;-webkit-text-stroke:0.25px #ffffff">3</div>
<div class="g" style="left:233.75px;top:259.51px;transform:scaleX(0.93);-webkit-text-stroke:0.25px #ffffff">X</div>
<div class="g" style="left:245.31px;top:259.51px;-webkit-text-stroke:0.25px #ffffff">3</div>
<div class="g" style="left:352.96px;top:259.51px;-webkit-text-stroke:0.25px #ffffff">0</div>
<div class="g" style="left:362.41px;top:259.51px;-webkit-text-stroke:0.25px #ffffff">.</div>
<div class="g" style="left:366.76px;top:259.51px;-webkit-text-stroke:0.25px #ffffff">0</div>
<div class="g" style="left:376.66px;top:259.51px;-webkit-text-stroke:0.25px #ffffff">8</div>
<div class="g" style="left:386.56px;top:259.51px;-webkit-text-stroke:0.25px #ffffff">4</div>
<div class="g" style="left:467.86px;top:259.51px;-webkit-text-stroke:0.25px #ffffff">2</div>
<div class="g" style="left:477.31px;top:259.51px;-webkit-text-stroke:0.25px #ffffff">.</div>
<div class="g" style="left:481.66px;top:259.51px;-webkit-text-stroke:0.25px #ffffff">5</div>
<div class="g" style="left:569.71px;top:259.51px;-webkit-text-stroke:0.25px #ffffff">9</div>
<div class="g" style="left:652.96px;top:259.51px;-webkit-text-stroke:0.25px #ffffff">0</div>
<div class="g" style="left:662.41px;top:259.51px;-webkit-text-stroke:0.25px #ffffff">.</div>
<div class="g" style="left:676.66px;top:259.51px;-webkit-text-stroke:0.25px #ffffff">0</div>
<div class="g" style="left:686.56px;top:259.51px;-webkit-text-stroke:0.25px #ffffff">7</div>
<div class="g" style="left:767.86px;top:259.51px;-webkit-text-stroke:0.25px #ffffff">2</div>
<div class="g" style="left:777.31px;top:259.51px;-webkit-text-stroke:0.25px #ffffff">.</div>
<div class="g" style="left:781.66px;top:259.51px;-webkit-text-stroke:0.25px #ffffff">5</div>
<div class="g" style="left:865.27px;top:259.51px;-webkit-text-stroke:0.25px #ffffff">z</div>
<div class="g" style="left:959.71px;top:259.51px;-webkit-text-stroke:0.25px #ffffff">8</div>
<div class="g" style="left:1044.91px;top:259.51px;-webkit-text-stroke:0.25px #ffffff">.</div>
<div class="g" style="left:1049.26px;top:259.51px;-webkit-text-stroke:0.25px #ffffff">7</div>
<div class="g" style="left:1059.16px;top:259.51px;-webkit-text-stroke:0.25px #ffffff">9</div>
<div class="g" style="left:1149.91px;top:259.51px;-webkit-text-stroke:0.25px #ffffff">.</div>
<div class="g" style="left:1154.26px;top:259.51px;-webkit-text-stroke:0.25px #ffffff">2</div>
<div class="g" style="left:1164.16px;top:259.51px;-webkit-text-stroke:0.25px #ffffff">6</div>
<div class="g" style="left:1174.06px;top:259.51px;-webkit-text-stroke:0.25px #ffffff">6</div>
<div class="g" style="left:1254.91px;top:259.51px;-webkit-text-stroke:0.25px #ffffff">.</div>
<div class="g" style="left:1259.26px;top:259.51px;-webkit-text-stroke:0.25px #ffffff">8</div>
<div class="g" style="left:1269.16px;top:259.51px;-webkit-text-stroke:0.25px #ffffff">7</div>
<div class="g" style="left:1279.06px;top:259.51px;-webkit-text-stroke:0.25px #ffffff">5</div>
<div class="g" style="left:1359.91px;top:259.51px;-webkit-text-stroke:0.25px #ffffff">.</div>
<div class="g" style="left:1364.26px;top:259.51px;-webkit-text-stroke:0.25px #ffffff">8</div>
<div class="g" style="left:1374.16px;top:259.51px;-webkit-text-stroke:0.25px #ffffff">7</div>
<div class="g" style="left:1384.06px;top:259.51px;-webkit-text-stroke:0.25px #ffffff">5</div>
<div class="g" style="left:1455.46px;top:259.51px;-webkit-text-stroke:0.25px #ffffff">0</div>
<div class="g" style="left:1464.91px;top:259.51px;-webkit-text-stroke:0.25px #ffffff">.</div>
<div class="g" style="left:1479.16px;top:259.51px;-webkit-text-stroke:0.25px #ffffff">7</div>
<div class="g" style="left:1489.06px;top:259.51px;-webkit-text-stroke:0.25px #ffffff">5</div>
<div class="g" style="left:1560.46px;top:259.51px;-webkit-text-stroke:0.25px #ffffff">3</div>
<div class="g" style="left:1569.91px;top:259.51px;-webkit-text-stroke:0.25px #ffffff">.</div>
<div class="g" style="left:1574.26px;top:259.51px;-webkit-text-stroke:0.25px #ffffff">4</div>
<div class="g" style="left:1584.16px;top:259.51px;-webkit-text-stroke:0.25px #ffffff">6</div>
<div class="g" style="left:1594.06px;top:259.51px;-webkit-text-stroke:0.25px #ffffff">4</div>
<div class="g" style="left:1775.41px;top:259.51px;-webkit-text-stroke:0.25px #ffffff">0</div>
<div class="g" style="left:1784.86px;top:259.51px;-webkit-text-stroke:0.25px #ffffff">.</div>
<div class="g" style="left:1789.21px;top:259.51px;-webkit-text-stroke:0.25px #ffffff">8</div>
<div class="g" style="left:1799.11px;top:259.51px;-webkit-text-stroke:0.25px #ffffff">3</div>
<div class="g" style="left:1869.61px;top:259.51px;-webkit-text-stroke:0.25px #ffffff">3</div>
<div class="g" style="left:1879.06px;top:259.51px;-webkit-text-stroke:0.25px #ffffff">.</div>
<div class="g" style="left:1883.41px;top:259.51px;-webkit-text-stroke:0.25px #ffffff">9</div>
<div class="g" style="left:1893.70px;top:259.51px;-webkit-text-stroke:0.25px #ffffff">-</div>
<div class="g" style="left:24.26px;top:295.51px;-webkit-text-stroke:0.25px #f0f0f0">8</div>
<div class="g" style="left:94.83px;top:295.51px;transform:scaleX(1.12);-webkit-text-stroke:0.25px #e0ffff">M</div>
<div class="g" style="left:110.21px;top:295.51px;-webkit-text-stroke:0.25px #e0ffff">2</div>
<div class="g" style="left:120.11px;top:295.51px;-webkit-text-stroke:0.25px #e0ffff">8</div>
<div class="g" style="left:224.21px;top:295.51px;-webkit-text-stroke:0.25px #e0ffff">3</div>
<div class="g" style="left:233.75px;top:295.51px;transform:scaleX(0.93);-webkit-text-stroke:0.25px #e0ffff">X</div>
<div class="g" style="left:245.31px;top:295.51px;-webkit-text-stroke:0.25px #e0ffff">3</div>
<div class="g" style="left:352.96px;top:295.51px;-webkit-text-stroke:0.25px #e0ffff">0</div>
<div class="g" style="left:362.41px;top:295.51px;-webkit-text-stroke:0.25px #e0ffff">.</div>
<div class="g" style="left:366.76px;top:295.51px;-webkit-text-stroke:0.25px #e0ffff">0</div>
<div class="g" style="left:376.66px;top:295.51px;-webkit-text-stroke:0.25px #e0ffff">6</div>
<div class="g" style="left:386.56px;top:295.51px;-webkit-text-stroke:0.25px #e0ffff">3</div>
<div class="g" style="left:474.76px;top:295.51px;-webkit-text-stroke:0.25px #e0ffff">2</div>
<div class="g" style="left:569.71px;top:295.51px;-webkit-text-stroke:0.25px #e0ffff">9</div>
<div class="g" style="left:652.96px;top:295.51px;-webkit-text-stroke:0.25px #e0ffff">0</div>
<div class="g" style="left:662.41px;top:295.51px;-webkit-text-stroke:0.25px #e0ffff">.</div>
<div class="g" style="left:676.66px;top:295.51px;-webkit-text-stroke:0.25px #e0ffff">0</div>
<div class="g" style="left:686.56px;top:295.51px;-webkit-text-stroke:0.25px #e0ffff">7</div>
<div class="g" style="left:774.76px;top:295.51px;-webkit-text-stroke:0.25px #e0ffff">2</div>
<div class="g" style="left:865.27px;top:295.51px;-webkit-text-stroke:0.25px #e0ffff">z</div>
<div class="g" style="left:959.71px;top:295.51px;-webkit-text-stroke:0.25px #e0ffff">8</div>
<div class="g" style="left:1044.91px;top:295.51px;-webkit-text-stroke:0.25px #e0ffff">.</div>
<div class="g" style="left:1049.26px;top:295.51px;-webkit-text-stroke:0.25px #e0ffff">9</div>
<div class="g" style="left:1059.16px;top:295.51px;-webkit-text-stroke:0.25px #e0ffff">4</div>
<div class="g" style="left:1069.06px;top:295.51px;-webkit-text-stroke:0.25px #e0ffff">6</div>
<div class="g" style="left:1149.91px;top:295.51px;-webkit-text-stroke:0.25px #e0ffff">.</div>
<div class="g" style="left:1154.26px;top:295.51px;-webkit-text-stroke:0.25px #e0ffff">2</div>
<div class="g" style="left:1164.16px;top:295.51px;-webkit-text-stroke:0.25px #e0ffff">6</div>
<div class="g" style="left:1174.06px;top:295.51px;-webkit-text-stroke:0.25px #e0ffff">6</div>
<div class="g" style="left:1254.91px;top:295.51px;-webkit-text-stroke:0.25px #e0ffff">.</div>
<div class="g" style="left:1259.26px;top:295.51px;-webkit-text-stroke:0.25px #e0ffff">8</div>
<div class="g" style="left:1269.16px;top:295.51px;-webkit-text-stroke:0.25px #e0ffff">7</div>
<div class="g" style="left:1279.06px;top:295.51px;-webkit-text-stroke:0.25px #e0ffff">5</div>
<div class="g" style="left:1359.91px;top:295.51px;-webkit-text-stroke:0.25px #e0ffff">.</div>
<div class="g" style="left:1364.26px;top:295.51px;-webkit-text-stroke:0.25px #e0ffff">8</div>
<div class="g" style="left:1374.16px;top:295.51px;-webkit-text-stroke:0.25px #e0ffff">7</div>
<div class="g" style="left:1384.06px;top:295.51px;-webkit-text-stroke:0.25px #e0ffff">5</div>
<div class="g" style="left:1455.46px;top:295.51px;-webkit-text-stroke:0.25px #e0ffff">0</div>
<div class="g" style="left:1464.91px;top:295.51px;-webkit-text-stroke:0.25px #e0ffff">.</div>
<div class="g" style="left:1479.16px;top:295.51px;-webkit-text-stroke:0.25px #e0ffff">7</div>
<div class="g" style="left:1489.06px;top:295.51px;-webkit-text-stroke:0.25px #e0ffff">5</div>
<div class="g" style="left:1560.46px;top:295.51px;-webkit-text-stroke:0.25px #e0ffff">3</div>
<div class="g" style="left:1569.91px;top:295.51px;-webkit-text-stroke:0.25px #e0ffff">.</div>
<div class="g" style="left:1574.26px;top:295.51px;-webkit-text-stroke:0.25px #e0ffff">0</div>
<div class="g" style="left:1584.16px;top:295.51px;-webkit-text-stroke:0.25px #e0ffff">9</div>
<div class="g" style="left:1594.06px;top:295.51px;-webkit-text-stroke:0.25px #e0ffff">8</div>
<div class="g" style="left:1770.46px;top:295.51px;-webkit-text-stroke:0.25px #e0ffff">0</div>
<div class="g" style="left:1779.91px;top:295.51px;-webkit-text-stroke:0.25px #e0ffff">.</div>
<div class="g" style="left:1784.26px;top:295.51px;-webkit-text-stroke:0.25px #e0ffff">9</div>
<div class="g" style="left:1794.16px;top:295.51px;-webkit-text-stroke:0.25px #e0ffff">0</div>
<div class="g" style="left:1804.06px;top:295.51px;-webkit-text-stroke:0.25px #e0ffff">2</div>
<div class="g" style="left:1869.61px;top:295.51px;-webkit-text-stroke:0.25px #e0ffff">3</div>
<div class="g" style="left:1879.06px;top:295.51px;-webkit-text-stroke:0.25px #e0ffff">.</div>
<div class="g" style="left:1883.41px;top:295.51px;-webkit-text-stroke:0.25px #e0ffff">9</div>
<div class="g" style="left:1893.70px;top:295.51px;-webkit-text-stroke:0.25px #e0ffff">-</div>
<div class="g" style="left:24.26px;top:331.51px;-webkit-text-stroke:0.25px #f0f0f0">9</div>
<div class="g" style="left:94.83px;top:331.51px;transform:scaleX(1.12);-webkit-text-stroke:0.25px #ffffff">M</div>
<div class="g" style="left:110.21px;top:331.51px;-webkit-text-stroke:0.25px #ffffff">2</div>
<div class="g" style="left:120.11px;top:331.51px;-webkit-text-stroke:0.25px #ffffff">9</div>
<div class="g" style="left:224.21px;top:331.51px;-webkit-text-stroke:0.25px #ffffff">3</div>
<div class="g" style="left:233.75px;top:331.51px;transform:scaleX(0.93);-webkit-text-stroke:0.25px #ffffff">X</div>
<div class="g" style="left:245.31px;top:331.51px;-webkit-text-stroke:0.25px #ffffff">3</div>
<div class="g" style="left:352.96px;top:331.51px;-webkit-text-stroke:0.25px #ffffff">0</div>
<div class="g" style="left:362.41px;top:331.51px;-webkit-text-stroke:0.25px #ffffff">.</div>
<div class="g" style="left:366.76px;top:331.51px;-webkit-text-stroke:0.25px #ffffff">0</div>
<div class="g" style="left:376.66px;top:331.51px;-webkit-text-stroke:0.25px #ffffff">4</div>
<div class="g" style="left:386.56px;top:331.51px;-webkit-text-stroke:0.25px #ffffff">2</div>
<div class="g" style="left:477.31px;top:331.51px;-webkit-text-stroke:0.25px #ffffff">.</div>
<div class="g" style="left:481.66px;top:331.51px;-webkit-text-stroke:0.25px #ffffff">5</div>
<div class="g" style="left:569.71px;top:331.51px;-webkit-text-stroke:0.25px #ffffff">9</div>
<div class="g" style="left:652.96px;top:331.51px;-webkit-text-stroke:0.25px #ffffff">0</div>
<div class="g" style="left:662.41px;top:331.51px;-webkit-text-stroke:0.25px #ffffff">.</div>
<div class="g" style="left:777.31px;top:331.51px;-webkit-text-stroke:0.25px #ffffff">.</div>
<div class="g" style="left:781.66px;top:331.51px;-webkit-text-stroke:0.25px #ffffff">5</div>
<div class="g" style="left:865.27px;top:331.51px;-webkit-text-stroke:0.25px #ffffff">z</div>
<div class="g" style="left:959.71px;top:331.51px;-webkit-text-stroke:0.25px #ffffff">8</div>
<div class="g" style="left:1035.46px;top:331.51px;-webkit-text-stroke:0.25px #ffffff">2</div>
<div class="g" style="left:1044.91px;top:331.51px;-webkit-text-stroke:0.25px #ffffff">.</div>
<div class="g" style="left:1049.26px;top:331.51px;-webkit-text-stroke:0.25px #ffffff">0</div>
<div class="g" style="left:1059.16px;top:331.51px;-webkit-text-stroke:0.25px #ffffff">4</div>
<div class="g" style="left:1069.06px;top:331.51px;-webkit-text-stroke:0.25px #ffffff">9</div>
<div class="g" style="left:1149.91px;top:331.51px;-webkit-text-stroke:0.25px #ffffff">.</div>
<div class="g" style="left:1154.26px;top:331.51px;-webkit-text-stroke:0.25px #ffffff">2</div>
<div class="g" style="left:1164.16px;top:331.51px;-webkit-text-stroke:0.25px #ffffff">6</div>
<div class="g" style="left:1174.06px;top:331.51px;-webkit-text-stroke:0.25px #ffffff">6</div>
<div class="g" style="left:1254.91px;top:331.51px;-webkit-text-stroke:0.25px #ffffff">.</div>
<div class="g" style="left:1259.26px;top:331.51px;-webkit-text-stroke:0.25px #ffffff">8</div>
<div class="g" style="left:1269.16px;top:331.51px;-webkit-text-stroke:0.25px #ffffff">7</div>
<div class="g" style="left:1279.06px;top:331.51px;-webkit-text-stroke:0.25px #ffffff">5</div>
<div class="g" style="left:1359.91px;top:331.51px;-webkit-text-stroke:0.25px #ffffff">.</div>
<div class="g" style="left:1364.26px;top:331.51px;-webkit-text-stroke:0.25px #ffffff">8</div>
<div class="g" style="left:1374.16px;top:331.51px;-webkit-text-stroke:0.25px #ffffff">7</div>
<div class="g" style="left:1384.06px;top:331.51px;-webkit-text-stroke:0.25px #ffffff">5</div>
<div class="g" style="left:1455.46px;top:331.51px;-webkit-text-stroke:0.25px #ffffff">0</div>
<div class="g" style="left:1464.91px;top:331.51px;-webkit-text-stroke:0.25px #ffffff">.</div>
<div class="g" style="left:1479.16px;top:331.51px;-webkit-text-stroke:0.25px #ffffff">7</div>
<div class="g" style="left:1489.06px;top:331.51px;-webkit-text-stroke:0.25px #ffffff">5</div>
<div class="g" style="left:1560.46px;top:331.51px;-webkit-text-stroke:0.25px #ffffff">2</div>
<div class="g" style="left:1569.91px;top:331.51px;-webkit-text-stroke:0.25px #ffffff">.</div>
<div class="g" style="left:1574.26px;top:331.51px;-webkit-text-stroke:0.25px #ffffff">6</div>
<div class="g" style="left:1584.16px;top:331.51px;-webkit-text-stroke:0.25px #ffffff">8</div>
<div class="g" style="left:1594.06px;top:331.51px;-webkit-text-stroke:0.25px #ffffff">3</div>
<div class="g" style="left:1775.41px;top:331.51px;-webkit-text-stroke:0.25px #ffffff">0</div>
<div class="g" style="left:1784.86px;top:331.51px;-webkit-text-stroke:0.25px #ffffff">.</div>
<div class="g" style="left:1789.21px;top:331.51px;-webkit-text-stroke:0.25px #ffffff">9</div>
<div class="g" style="left:1799.11px;top:331.51px;-webkit-text-stroke:0.25px #ffffff">5</div>
<div class="g" style="left:1869.61px;top:331.51px;-webkit-text-stroke:0.25px #ffffff">3</div>
<div class="g" style="left:1879.06px;top:331.51px;-webkit-text-stroke:0.25px #ffffff">.</div>
<div class="g" style="left:1883.41px;top:331.51px;-webkit-text-stroke:0.25px #ffffff">9</div>
<div class="g" style="left:1893.70px;top:331.51px;-webkit-text-stroke:0.25px #ffffff">-</div>
<div class="g" style="left:29.21px;top:367.51px;-webkit-text-stroke:0.25px #f0f0f0">0</div>
<div class="g" style="left:94.83px;top:367.51px;transform:scaleX(1.12);-webkit-text-stroke:0.25px #e0ffff">M</div>
<div class="g" style="left:110.21px;top:367.51px;-webkit-text-stroke:0.25px #e0ffff">3</div>
<div class="g" style="left:120.11px;top:367.51px;-webkit-text-stroke:0.25px #e0ffff">0</div>
<div class="g" style="left:224.21px;top:367.51px;-webkit-text-stroke:0.25px #e0ffff">3</div>
<div class="g" style="left:233.75px;top:367.51px;transform:scaleX(0.93);-webkit-text-stroke:0.25px #e0ffff">X</div>
<div class="g" style="left:245.31px;top:367.51px;-webkit-text-stroke:0.25px #e0ffff">3</div>
<div class="g" style="left:352.96px;top:367.51px;-webkit-text-stroke:0.25px #e0ffff">0</div>
<div class="g" style="left:362.41px;top:367.51px;-webkit-text-stroke:0.25px #e0ffff">.</div>
<div class="g" style="left:366.76px;top:367.51px;-webkit-text-stroke:0.25px #e0ffff">0</div>
<div class="g" style="left:386.56px;top:367.51px;-webkit-text-stroke:0.25px #e0ffff">9</div>
<div class="g" style="left:569.71px;top:367.51px;-webkit-text-stroke:0.25px #e0ffff">9</div>
<div class="g" style="left:652.96px;top:367.51px;-webkit-text-stroke:0.25px #e0ffff">0</div>
<div class="g" style="left:662.41px;top:367.51px;-webkit-text-stroke:0.25px #e0ffff">.</div>
<div class="g" style="left:676.66px;top:367.51px;-webkit-text-stroke:0.25px #e0ffff">2</div>
<div class="g" style="left:686.56px;top:367.51px;-webkit-text-stroke:0.25px #e0ffff">9</div>
<div class="g" style="left:865.27px;top:367.51px;-webkit-text-stroke:0.25px #e0ffff">z</div>
<div class="g" style="left:959.71px;top:367.51px;-webkit-text-stroke:0.25px #e0ffff">8</div>
<div class="g" style="left:1035.46px;top:367.51px;-webkit-text-stroke:0.25px #e0ffff">2</div>
<div class="g" style="left:1044.91px;top:367.51px;-webkit-text-stroke:0.25px #e0ffff">.</div>
<div class="g" style="left:1069.06px;top:367.51px;-webkit-text-stroke:0.25px #e0ffff">2</div>
<div class="g" style="left:1149.91px;top:367.51px;-webkit-text-stroke:0.25px #e0ffff">.</div>
<div class="g" style="left:1154.26px;top:367.51px;-webkit-text-stroke:0.25px #e0ffff">2</div>
<div class="g" style="left:1164.16px;top:367.51px;-webkit-text-stroke:0.25px #e0ffff">6</div>
<div class="g" style="left:1174.06px;top:367.51px;-webkit-text-stroke:0.25px #e0ffff">6</div>
<div class="g" style="left:1254.91px;top:367.51px;-webkit-text-stroke:0.25px #e0ffff">.</div>
<div class="g" style="left:1259.26px;top:367.51px;-webkit-text-stroke:0.25px #e0ffff">8</div>
<div class="g" style="left:1269.16px;top:367.51px;-webkit-text-stroke:0.25px #e0ffff">7</div>
<div class="g" style="left:1279.06px;top:367.51px;-webkit-text-stroke:0.25px #e0ffff">5</div>
<div class="g" style="left:1359.91px;top:367.51px;-webkit-text-stroke:0.25px #e0ffff">.</div>
<div class="g" style="left:1364.26px;top:367.51px;-webkit-text-stroke:0.25px #e0ffff">8</div>
<div class="g" style="left:1374.16px;top:367.51px;-webkit-text-stroke:0.25px #e0ffff">7</div>
<div class="g" style="left:1384.06px;top:367.51px;-webkit-text-stroke:0.25px #e0ffff">5</div>
<div class="g" style="left:1455.46px;top:367.51px;-webkit-text-stroke:0.25px #e0ffff">0</div>
<div class="g" style="left:1464.91px;top:367.51px;-webkit-text-stroke:0.25px #e0ffff">.</div>
<div class="g" style="left:1479.16px;top:367.51px;-webkit-text-stroke:0.25px #e0ffff">7</div>
<div class="g" style="left:1489.06px;top:367.51px;-webkit-text-stroke:0.25px #e0ffff">5</div>
<div class="g" style="left:1560.46px;top:367.51px;-webkit-text-stroke:0.25px #e0ffff">2</div>
<div class="g" style="left:1569.91px;top:367.51px;-webkit-text-stroke:0.25px #e0ffff">.</div>
<div class="g" style="left:1584.16px;top:367.51px;-webkit-text-stroke:0.25px #e0ffff">9</div>
<div class="g" style="left:1770.46px;top:367.51px;-webkit-text-stroke:0.25px #e0ffff">0</div>
<div class="g" style="left:1779.91px;top:367.51px;-webkit-text-stroke:0.25px #e0ffff">.</div>
<div class="g" style="left:1784.26px;top:367.51px;-webkit-text-stroke:0.25px #e0ffff">9</div>
<div class="g" style="left:1794.16px;top:367.51px;-webkit-text-stroke:0.25px #e0ffff">7</div>
<div class="g" style="left:1804.06px;top:367.51px;-webkit-text-stroke:0.25px #e0ffff">9</div>
<div class="g" style="left:1869.61px;top:367.51px;-webkit-text-stroke:0.25px #e0ffff">3</div>
<div class="g" style="left:1879.06px;top:367.51px;-webkit-text-stroke:0.25px #e0ffff">.</div>
<div class="g" style="left:1883.41px;top:367.51px;-webkit-text-stroke:0.25px #e0ffff">9</div>
<div class="g" style="left:1893.70px;top:367.51px;-webkit-text-stroke:0.25px #e0ffff">-</div>
<div class="g" style="left:361.61px;top:115.51px;font-weight:bold;color:#cc0000">.</div>
<div class="g" style="left:366.51px;top:115.51px;font-weight:bold;color:#cc0000">0</div>
<div class="g" style="left:377.41px;top:115.51px;font-weight:bold;color:#cc0000">9</div>
<div class="g" style="left:387.31px;top:115.51px;font-weight:bold;color:#cc0000">2</div>
</div>
<svg width="2009" height="518" style="pointer-events:none"><path fill="#000" d="
M45.40 162.20H46.85V175.00H45.40V164.05L43.15 166.15L42.45 165.05ZM407.70 162.20H409.15V175.00H407.70V164.05L405.45 166.15L404.75 165.05ZM580.95 162.20H582.40V175.00H580.95V164.05L578.70 166.15L578.00 165.05ZM790.95 162.20H792.40V175.00H790.95V164.05L788.70 166.15L788.00 165.05ZM970.95 162.20H972.40V175.00H970.95V164.05L968.70 166.15L968.00 165.05ZM1161.60 162.20H1163.05V175.00H1161.60V164.05L1159.35 166.15L1158.65 165.05ZM1185.30 162.20H1186.75V175.00H1185.30V164.05L1183.05 166.15L1182.35 165.05ZM1266.60 162.20H1268.05V175.00H1266.60V164.05L1264.35 166.15L1263.65 165.05ZM1381.50 162.20H1382.95V175.00H1381.50V164.05L1379.25 166.15L1378.55 165.05ZM1490.40 162.20H1491.85V175.00H1490.40V164.05L1488.15 166.15L1487.45 165.05ZM1805.40 162.20H1806.85V175.00H1805.40V164.05L1803.15 166.15L1802.45 165.05ZM512.70 198.20H514.15V211.00H512.70V200.05L510.45 202.15L509.75 201.05ZM580.95 198.20H582.40V211.00H580.95V200.05L578.70 202.15L578.00 201.05ZM687.90 198.20H689.35V211.00H687.90V200.05L685.65 202.15L684.95 201.05ZM812.70 198.20H814.15V211.00H812.70V200.05L810.45 202.15L809.75 201.05ZM970.95 198.20H972.40V211.00H970.95V200.05L968.70 202.15L968.00 201.05ZM1161.60 198.20H1163.05V211.00H1161.60V200.05L1159.35 202.15L1158.65 201.05ZM1185.30 198.20H1186.75V211.00H1185.30V200.05L1183.05 202.15L1182.35 201.05ZM1266.60 198.20H1268.05V211.00H1266.60V200.05L1264.35 202.15L1263.65 201.05ZM1376.55 198.20H1378.00V211.00H1376.55V200.05L1374.30 202.15L1373.60 201.05ZM1490.40 198.20H1491.85V211.00H1490.40V200.05L1488.15 202.15L1487.45 201.05ZM1921.05 198.20H1922.50V211.00H1921.05V200.05L1918.80 202.15L1918.10 201.05ZM580.95 234.20H582.40V247.00H580.95V236.05L578.70 238.15L578.00 237.05ZM697.80 234.20H699.25V247.00H697.80V236.05L695.55 238.15L694.85 237.05ZM790.95 234.20H792.40V247.00H790.95V236.05L788.70 238.15L788.00 237.05ZM970.95 234.20H972.40V247.00H970.95V236.05L968.70 238.15L968.00 237.05ZM1161.60 234.20H1163.05V247.00H1161.60V236.05L1159.35 238.15L1158.65 237.05ZM1266.60 234.20H1268.05V247.00H1266.60V236.05L1264.35 238.15L1263.65 237.05ZM1300.20 234.20H1301.65V247.00H1300.20V236.05L1297.95 238.15L1297.25 237.05ZM1371.60 234.20H1373.05V247.00H1371.60V236.05L1369.35 238.15L1368.65 237.05ZM1500.30 234.20H1501.75V247.00H1500.30V236.05L1498.05 238.15L1497.35 237.05ZM1805.40 234.20H1806.85V247.00H1805.40V236.05L1803.15 238.15L1802.45 237.05ZM1825.20 234.20H1826.65V247.00H1825.20V236.05L1822.95 238.15L1822.25 237.05ZM512.70 270.20H514.15V283.00H512.70V272.05L510.45 274.15L509.75 273.05ZM580.95 270.20H582.40V283.00H580.95V272.05L578.70 274.15L578.00 273.05ZM707.70 270.20H709.15V283.00H707.70V272.05L705.45 274.15L704.75 273.05ZM774.15 270.20H775.60V283.00H774.15V272.05L771.90 274.15L771.20 273.05ZM797.85 270.20H799.30V283.00H797.85V272.05L795.60 274.15L794.90 273.05ZM970.95 270.20H972.40V283.00H970.95V272.05L968.70 274.15L968.00 273.05ZM1056.60 270.20H1058.05V283.00H1056.60V272.05L1054.35 274.15L1053.65 273.05ZM1080.30 270.20H1081.75V283.00H1080.30V272.05L1078.05 274.15L1077.35 273.05ZM1161.60 270.20H1163.05V283.00H1161.60V272.05L1159.35 274.15L1158.65 273.05ZM1271.55 270.20H1273.00V283.00H1271.55V272.05L1269.30 274.15L1268.60 273.05ZM1500.30 270.20H1501.75V283.00H1500.30V272.05L1498.05 274.15L1497.35 273.05ZM1921.05 270.20H1922.50V283.00H1921.05V272.05L1918.80 274.15L1918.10 273.05ZM126.40 306.20H127.85V319.00H126.40V308.05L124.15 310.15L123.45 309.05ZM490.95 306.20H492.40V319.00H490.95V308.05L488.70 310.15L488.00 309.05ZM580.95 306.20H582.40V319.00H580.95V308.05L578.70 310.15L578.00 309.05ZM790.95 306.20H792.40V319.00H790.95V308.05L788.70 310.15L788.00 309.05ZM1161.60 306.20H1163.05V319.00H1161.60V308.05L1159.35 310.15L1158.65 309.05ZM1266.60 306.20H1268.05V319.00H1266.60V308.05L1264.35 310.15L1263.65 309.05ZM1371.60 306.20H1373.05V319.00H1371.60V308.05L1369.35 310.15L1368.65 309.05ZM1500.30 306.20H1501.75V319.00H1500.30V308.05L1498.05 310.15L1497.35 309.05ZM1581.60 306.20H1583.05V319.00H1581.60V308.05L1579.35 310.15L1578.65 309.05ZM1703.40 306.20H1704.85V319.00H1703.40V308.05L1701.15 310.15L1700.45 309.05ZM1805.40 306.20H1806.85V319.00H1805.40V308.05L1803.15 310.15L1802.45 309.05ZM1825.20 306.20H1826.65V319.00H1825.20V308.05L1822.95 310.15L1822.25 309.05ZM1921.05 306.20H1922.50V319.00H1921.05V308.05L1918.80 310.15L1918.10 309.05ZM126.40 342.20H127.85V355.00H126.40V344.05L124.15 346.15L123.45 345.05ZM474.15 342.20H475.60V355.00H474.15V344.05L471.90 346.15L471.20 345.05ZM580.95 342.20H582.40V355.00H580.95V344.05L578.70 346.15L578.00 345.05ZM812.70 342.20H814.15V355.00H812.70V344.05L810.45 346.15L809.75 345.05ZM1056.60 342.20H1058.05V355.00H1056.60V344.05L1054.35 346.15L1053.65 345.05ZM1080.30 342.20H1081.75V355.00H1080.30V344.05L1078.05 346.15L1077.35 345.05ZM1161.60 342.20H1163.05V355.00H1161.60V344.05L1159.35 346.15L1158.65 345.05ZM1271.55 342.20H1273.00V355.00H1271.55V344.05L1269.30 346.15L1268.60 345.05ZM1500.30 342.20H1501.75V355.00H1500.30V344.05L1498.05 346.15L1497.35 345.05ZM580.95 378.20H582.40V391.00H580.95V380.05L578.70 382.15L578.00 381.05ZM687.90 378.20H689.35V391.00H687.90V380.05L685.65 382.15L684.95 381.05ZM970.95 378.20H972.40V391.00H970.95V380.05L968.70 382.15L968.00 381.05ZM1056.60 378.20H1058.05V391.00H1056.60V380.05L1054.35 382.15L1053.65 381.05ZM1090.20 378.20H1091.65V391.00H1090.20V380.05L1087.95 382.15L1087.25 381.05ZM1161.60 378.20H1163.05V391.00H1161.60V380.05L1159.35 382.15L1158.65 381.05ZM1266.60 378.20H1268.05V391.00H1266.60V380.05L1264.35 382.15L1263.65 381.05ZM1371.60 378.20H1373.05V391.00H1371.60V380.05L1369.35 382.15L1368.65 381.05ZM1490.40 378.20H1491.85V391.00H1490.40V380.05L1488.15 382.15L1487.45 381.05ZM1703.40 378.20H1704.85V391.00H1703.40V380.05L1701.15 382.15L1700.45 381.05ZM1921.05 378.20H1922.50V391.00H1921.05V380.05L1918.80 382.15L1918.10 381.05ZM580.95 414.20H582.40V427.00H580.95V416.05L578.70 418.15L578.00 417.05ZM687.90 414.20H689.35V427.00H687.90V416.05L685.65 418.15L684.95 417.05ZM970.95 414.20H972.40V427.00H970.95V416.05L968.70 418.15L968.00 417.05ZM1056.60 414.20H1058.05V427.00H1056.60V416.05L1054.35 418.15L1053.65 417.05ZM1161.60 414.20H1163.05V427.00H1161.60V416.05L1159.35 418.15L1158.65 417.05ZM1266.60 414.20H1268.05V427.00H1266.60V416.05L1264.35 418.15L1263.65 417.05ZM1371.60 414.20H1373.05V427.00H1371.60V416.05L1369.35 418.15L1368.65 417.05ZM1490.40 414.20H1491.85V427.00H1490.40V416.05L1488.15 418.15L1487.45 417.05ZM1703.40 414.20H1704.85V427.00H1703.40V416.05L1701.15 418.15L1700.45 417.05ZM1921.05 414.20H1922.50V427.00H1921.05V416.05L1918.80 418.15L1918.10 417.05ZM489.00 450.20H490.45V463.00H489.00V452.05L486.75 454.15L486.05 453.05ZM580.95 450.20H582.40V463.00H580.95V452.05L578.70 454.15L578.00 453.05ZM687.90 450.20H689.35V463.00H687.90V452.05L685.65 454.15L684.95 453.05ZM697.80 450.20H699.25V463.00H697.80V452.05L695.55 454.15L694.85 453.05ZM707.70 450.20H709.15V463.00H707.70V452.05L705.45 454.15L704.75 453.05ZM789.00 450.20H790.45V463.00H789.00V452.05L786.75 454.15L786.05 453.05ZM970.95 450.20H972.40V463.00H970.95V452.05L968.70 454.15L968.00 453.05ZM1161.60 450.20H1163.05V463.00H1161.60V452.05L1159.35 454.15L1158.65 453.05ZM1266.60 450.20H1268.05V463.00H1266.60V452.05L1264.35 454.15L1263.65 453.05ZM1371.60 450.20H1373.05V463.00H1371.60V452.05L1369.35 454.15L1368.65 453.05ZM1490.40 450.20H1491.85V463.00H1490.40V452.05L1488.15 454.15L1487.45 453.05ZM1703.40 450.20H1704.85V463.00H1703.40V452.05L1701.15 454.15L1700.45 453.05ZM1921.05 450.20H1922.50V463.00H1921.05V452.05L1918.80 454.15L1918.10 453.05ZM40.45 486.20H41.90V499.00H40.45V488.05L38.20 490.15L37.50 489.05ZM397.80 486.20H399.25V499.00H397.80V488.05L395.55 490.15L394.85 489.05ZM495.90 486.20H497.35V499.00H495.90V488.05L493.65 490.15L492.95 489.05ZM580.95 486.20H582.40V499.00H580.95V488.05L578.70 490.15L578.00 489.05ZM687.90 486.20H689.35V499.00H687.90V488.05L685.65 490.15L684.95 489.05ZM795.90 486.20H797.35V499.00H795.90V488.05L793.65 490.15L792.95 489.05ZM970.95 486.20H972.40V499.00H970.95V488.05L968.70 490.15L968.00 489.05ZM1070.40 486.20H1071.85V499.00H1070.40V488.05L1068.15 490.15L1067.45 489.05ZM1080.30 486.20H1081.75V499.00H1080.30V488.05L1078.05 490.15L1077.35 489.05ZM1161.60 486.20H1163.05V499.00H1161.60V488.05L1159.35 490.15L1158.65 489.05ZM1266.60 486.20H1268.05V499.00H1266.60V488.05L1264.35 490.15L1263.65 489.05ZM1371.60 486.20H1373.05V499.00H1371.60V488.05L1369.35 490.15L1368.65 489.05ZM1490.40 486.20H1491.85V499.00H1490.40V488.05L1488.15 490.15L1487.45 489.05ZM1595.40 486.20H1596.85V499.00H1595.40V488.05L1593.15 490.15L1592.45 489.05ZM1615.20 486.20H1616.65V499.00H1615.20V488.05L1612.95 490.15L1612.25 489.05ZM1703.40 486.20H1704.85V499.00H1703.40V488.05L1701.15 490.15L1700.45 489.05ZM1921.05 486.20H1922.50V499.00H1921.05V488.05L1918.80 490.15L1918.10 489.05Z
"/><path fill="#cc0000" d="M372.7 233.9H375.2V247H372.7V237.6L369.6 239.9L368.9 237.8L372.3 233.9Z"/></svg>
</body></html>
